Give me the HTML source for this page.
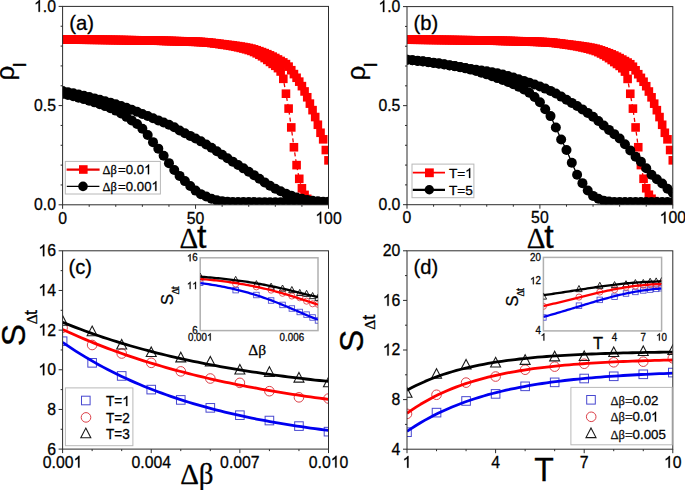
<!DOCTYPE html><html><head><meta charset="utf-8"><style>html,body{margin:0;padding:0;background:#fff;width:685px;height:490px;overflow:hidden;}svg{display:block;} svg text{stroke:#000;stroke-width:.28px;font-kerning:none;}</style></head><body>
<svg width="685" height="490" viewBox="0 0 685 490" font-family='"Liberation Sans", sans-serif'>
<rect width="685" height="490" fill="#fff"/>
<defs>
<clipPath id="ca"><rect x="62.6" y="6.4" width="265.90" height="198.40"/></clipPath>
<clipPath id="cb"><rect x="407.0" y="6.6" width="265.80" height="198.10"/></clipPath>
<clipPath id="cc"><rect x="62.6" y="250.8" width="265.90" height="198.30"/></clipPath>
<clipPath id="cd"><rect x="407.0" y="250.8" width="265.80" height="198.40"/></clipPath>
<clipPath id="cci"><rect x="200.2" y="257.8" width="117.80" height="72.80"/></clipPath>
<clipPath id="cdi"><rect x="543.4" y="257.4" width="118.20" height="73.50"/></clipPath>
</defs>
<g clip-path="url(#ca)"><rect x="58.3" y="35.23" width="8.6" height="8.6" fill="#f00"/><rect x="60.96" y="35.26" width="8.6" height="8.6" fill="#f00"/><rect x="63.62" y="35.28" width="8.6" height="8.6" fill="#f00"/><rect x="66.28" y="35.31" width="8.6" height="8.6" fill="#f00"/><rect x="68.94" y="35.34" width="8.6" height="8.6" fill="#f00"/><rect x="71.59" y="35.36" width="8.6" height="8.6" fill="#f00"/><rect x="74.25" y="35.39" width="8.6" height="8.6" fill="#f00"/><rect x="76.91" y="35.42" width="8.6" height="8.6" fill="#f00"/><rect x="79.57" y="35.45" width="8.6" height="8.6" fill="#f00"/><rect x="82.23" y="35.48" width="8.6" height="8.6" fill="#f00"/><rect x="84.89" y="35.51" width="8.6" height="8.6" fill="#f00"/><rect x="87.55" y="35.54" width="8.6" height="8.6" fill="#f00"/><rect x="90.21" y="35.57" width="8.6" height="8.6" fill="#f00"/><rect x="92.87" y="35.6" width="8.6" height="8.6" fill="#f00"/><rect x="95.53" y="35.63" width="8.6" height="8.6" fill="#f00"/><rect x="98.19" y="35.66" width="8.6" height="8.6" fill="#f00"/><rect x="100.84" y="35.69" width="8.6" height="8.6" fill="#f00"/><rect x="103.5" y="35.73" width="8.6" height="8.6" fill="#f00"/><rect x="106.16" y="35.76" width="8.6" height="8.6" fill="#f00"/><rect x="108.82" y="35.79" width="8.6" height="8.6" fill="#f00"/><rect x="111.48" y="35.83" width="8.6" height="8.6" fill="#f00"/><rect x="114.14" y="35.86" width="8.6" height="8.6" fill="#f00"/><rect x="116.8" y="35.9" width="8.6" height="8.6" fill="#f00"/><rect x="119.46" y="35.93" width="8.6" height="8.6" fill="#f00"/><rect x="122.12" y="35.96" width="8.6" height="8.6" fill="#f00"/><rect x="124.77" y="36" width="8.6" height="8.6" fill="#f00"/><rect x="127.43" y="36.03" width="8.6" height="8.6" fill="#f00"/><rect x="130.09" y="36.06" width="8.6" height="8.6" fill="#f00"/><rect x="132.75" y="36.1" width="8.6" height="8.6" fill="#f00"/><rect x="135.41" y="36.14" width="8.6" height="8.6" fill="#f00"/><rect x="138.07" y="36.17" width="8.6" height="8.6" fill="#f00"/><rect x="140.73" y="36.21" width="8.6" height="8.6" fill="#f00"/><rect x="143.39" y="36.25" width="8.6" height="8.6" fill="#f00"/><rect x="146.05" y="36.29" width="8.6" height="8.6" fill="#f00"/><rect x="148.71" y="36.33" width="8.6" height="8.6" fill="#f00"/><rect x="151.36" y="36.37" width="8.6" height="8.6" fill="#f00"/><rect x="154.02" y="36.42" width="8.6" height="8.6" fill="#f00"/><rect x="156.68" y="36.47" width="8.6" height="8.6" fill="#f00"/><rect x="159.34" y="36.52" width="8.6" height="8.6" fill="#f00"/><rect x="162" y="36.57" width="8.6" height="8.6" fill="#f00"/><rect x="164.66" y="36.62" width="8.6" height="8.6" fill="#f00"/><rect x="167.32" y="36.68" width="8.6" height="8.6" fill="#f00"/><rect x="169.98" y="36.74" width="8.6" height="8.6" fill="#f00"/><rect x="172.64" y="36.8" width="8.6" height="8.6" fill="#f00"/><rect x="175.3" y="36.86" width="8.6" height="8.6" fill="#f00"/><rect x="177.95" y="36.93" width="8.6" height="8.6" fill="#f00"/><rect x="180.61" y="37" width="8.6" height="8.6" fill="#f00"/><rect x="183.27" y="37.08" width="8.6" height="8.6" fill="#f00"/><rect x="185.93" y="37.17" width="8.6" height="8.6" fill="#f00"/><rect x="188.59" y="37.27" width="8.6" height="8.6" fill="#f00"/><rect x="191.25" y="37.37" width="8.6" height="8.6" fill="#f00"/><rect x="193.91" y="37.49" width="8.6" height="8.6" fill="#f00"/><rect x="196.57" y="37.61" width="8.6" height="8.6" fill="#f00"/><rect x="199.23" y="37.77" width="8.6" height="8.6" fill="#f00"/><rect x="201.89" y="37.98" width="8.6" height="8.6" fill="#f00"/><rect x="204.54" y="38.23" width="8.6" height="8.6" fill="#f00"/><rect x="207.2" y="38.52" width="8.6" height="8.6" fill="#f00"/><rect x="209.86" y="38.82" width="8.6" height="8.6" fill="#f00"/><rect x="212.52" y="39.14" width="8.6" height="8.6" fill="#f00"/><rect x="215.18" y="39.47" width="8.6" height="8.6" fill="#f00"/><rect x="217.84" y="39.8" width="8.6" height="8.6" fill="#f00"/><rect x="220.5" y="40.12" width="8.6" height="8.6" fill="#f00"/><rect x="223.16" y="40.44" width="8.6" height="8.6" fill="#f00"/><rect x="225.82" y="40.76" width="8.6" height="8.6" fill="#f00"/><rect x="228.48" y="41.1" width="8.6" height="8.6" fill="#f00"/><rect x="231.13" y="41.46" width="8.6" height="8.6" fill="#f00"/><rect x="233.79" y="41.84" width="8.6" height="8.6" fill="#f00"/><rect x="236.45" y="42.25" width="8.6" height="8.6" fill="#f00"/><rect x="239.11" y="42.68" width="8.6" height="8.6" fill="#f00"/><rect x="241.77" y="43.16" width="8.6" height="8.6" fill="#f00"/><rect x="244.43" y="43.68" width="8.6" height="8.6" fill="#f00"/><rect x="247.09" y="44.27" width="8.6" height="8.6" fill="#f00"/><rect x="249.75" y="45.03" width="8.6" height="8.6" fill="#f00"/><rect x="252.41" y="45.92" width="8.6" height="8.6" fill="#f00"/><rect x="255.07" y="46.85" width="8.6" height="8.6" fill="#f00"/><rect x="257.72" y="47.81" width="8.6" height="8.6" fill="#f00"/><rect x="260.38" y="48.82" width="8.6" height="8.6" fill="#f00"/><rect x="263.04" y="49.9" width="8.6" height="8.6" fill="#f00"/><rect x="265.7" y="51.06" width="8.6" height="8.6" fill="#f00"/><rect x="268.36" y="52.32" width="8.6" height="8.6" fill="#f00"/><rect x="271.02" y="53.69" width="8.6" height="8.6" fill="#f00"/><rect x="273.68" y="55.15" width="8.6" height="8.6" fill="#f00"/><rect x="276.34" y="56.66" width="8.6" height="8.6" fill="#f00"/><rect x="279" y="58.12" width="8.6" height="8.6" fill="#f00"/><rect x="281.66" y="59.81" width="8.6" height="8.6" fill="#f00"/><rect x="284.31" y="62.33" width="8.6" height="8.6" fill="#f00"/><rect x="286.97" y="65.91" width="8.6" height="8.6" fill="#f00"/><rect x="289.63" y="69.8" width="8.6" height="8.6" fill="#f00"/><rect x="292.29" y="73.48" width="8.6" height="8.6" fill="#f00"/><rect x="294.95" y="77.34" width="8.6" height="8.6" fill="#f00"/><rect x="297.61" y="81.84" width="8.6" height="8.6" fill="#f00"/><rect x="300.27" y="87.14" width="8.6" height="8.6" fill="#f00"/><rect x="302.93" y="92.97" width="8.6" height="8.6" fill="#f00"/><rect x="305.59" y="99.32" width="8.6" height="8.6" fill="#f00"/><rect x="308.25" y="105.84" width="8.6" height="8.6" fill="#f00"/><rect x="310.9" y="112.74" width="8.6" height="8.6" fill="#f00"/><rect x="313.56" y="120.46" width="8.6" height="8.6" fill="#f00"/><rect x="316.22" y="128.47" width="8.6" height="8.6" fill="#f00"/><rect x="318.88" y="135.03" width="8.6" height="8.6" fill="#f00"/><rect x="321.54" y="145.74" width="8.6" height="8.6" fill="#f00"/><rect x="324.2" y="156.06" width="8.6" height="8.6" fill="#f00"/><path d="M62.6,39.53 L65.26,39.53 L67.92,39.54 L70.58,39.54 L73.24,39.55 L75.89,39.55 L78.55,39.56 L81.21,39.58 L83.87,39.59 L86.53,39.61 L89.19,39.62 L91.85,39.64 L94.51,39.66 L97.17,39.68 L99.83,39.71 L102.48,39.74 L105.14,39.76 L107.8,39.79 L110.46,39.83 L113.12,39.86 L115.78,39.9 L118.44,39.93 L121.1,39.97 L123.76,40.02 L126.42,40.06 L129.07,40.11 L131.73,40.15 L134.39,40.2 L137.05,40.25 L139.71,40.31 L142.37,40.36 L145.03,40.42 L147.69,40.48 L150.35,40.54 L153.01,40.61 L155.66,40.67 L158.32,40.74 L160.98,40.81 L163.64,40.88 L166.3,40.96 L168.96,41.03 L171.62,41.11 L174.28,41.19 L176.94,41.27 L179.6,41.36 L182.25,41.44 L184.91,41.53 L187.57,41.62 L190.23,41.72 L192.89,41.81 L195.55,41.91 L198.21,42.01 L200.87,42.11 L203.53,42.25 L206.19,42.46 L208.84,42.72 L211.5,43.02 L214.16,43.36 L216.82,43.73 L219.48,44.11 L222.14,44.49 L224.8,44.89 L227.46,45.31 L230.12,45.75 L232.78,46.23 L235.43,46.75 L238.09,47.31 L240.75,47.91 L243.41,48.56 L246.07,49.27 L248.73,50.04 L251.39,50.9 L254.05,52.01 L256.71,53.32 L259.37,54.76 L262.02,56.3 L264.68,58.03 L267.34,59.92 L270,61.93 L272.66,63.89 L275.32,65.79 L277.98,68.14 L280.64,71.48 L283.3,78.82 L285.96,93.7 L288.62,108.58 L291.27,127.42 L293.93,147.26 L296.59,165.12 L299.25,178.81 L301.91,188.33 L304.57,194.88 L307.23,198.85 L309.89,201.23 L312.55,202.42 L315.2,203.21 L317.86,203.49 L320.52,203.72 L323.18,203.88 L325.84,203.97 L328.5,204.01" fill="none" stroke="#e00" stroke-width="1.3" stroke-dasharray="4,3"/><rect x="58.3" y="35.23" width="8.6" height="8.6" fill="#f00"/><rect x="60.96" y="35.23" width="8.6" height="8.6" fill="#f00"/><rect x="63.62" y="35.24" width="8.6" height="8.6" fill="#f00"/><rect x="66.28" y="35.24" width="8.6" height="8.6" fill="#f00"/><rect x="68.94" y="35.25" width="8.6" height="8.6" fill="#f00"/><rect x="71.59" y="35.25" width="8.6" height="8.6" fill="#f00"/><rect x="74.25" y="35.26" width="8.6" height="8.6" fill="#f00"/><rect x="76.91" y="35.28" width="8.6" height="8.6" fill="#f00"/><rect x="79.57" y="35.29" width="8.6" height="8.6" fill="#f00"/><rect x="82.23" y="35.31" width="8.6" height="8.6" fill="#f00"/><rect x="84.89" y="35.32" width="8.6" height="8.6" fill="#f00"/><rect x="87.55" y="35.34" width="8.6" height="8.6" fill="#f00"/><rect x="90.21" y="35.36" width="8.6" height="8.6" fill="#f00"/><rect x="92.87" y="35.38" width="8.6" height="8.6" fill="#f00"/><rect x="95.53" y="35.41" width="8.6" height="8.6" fill="#f00"/><rect x="98.19" y="35.44" width="8.6" height="8.6" fill="#f00"/><rect x="100.84" y="35.46" width="8.6" height="8.6" fill="#f00"/><rect x="103.5" y="35.49" width="8.6" height="8.6" fill="#f00"/><rect x="106.16" y="35.53" width="8.6" height="8.6" fill="#f00"/><rect x="108.82" y="35.56" width="8.6" height="8.6" fill="#f00"/><rect x="111.48" y="35.6" width="8.6" height="8.6" fill="#f00"/><rect x="114.14" y="35.63" width="8.6" height="8.6" fill="#f00"/><rect x="116.8" y="35.67" width="8.6" height="8.6" fill="#f00"/><rect x="119.46" y="35.72" width="8.6" height="8.6" fill="#f00"/><rect x="122.12" y="35.76" width="8.6" height="8.6" fill="#f00"/><rect x="124.77" y="35.81" width="8.6" height="8.6" fill="#f00"/><rect x="127.43" y="35.85" width="8.6" height="8.6" fill="#f00"/><rect x="130.09" y="35.9" width="8.6" height="8.6" fill="#f00"/><rect x="132.75" y="35.95" width="8.6" height="8.6" fill="#f00"/><rect x="135.41" y="36.01" width="8.6" height="8.6" fill="#f00"/><rect x="138.07" y="36.06" width="8.6" height="8.6" fill="#f00"/><rect x="140.73" y="36.12" width="8.6" height="8.6" fill="#f00"/><rect x="143.39" y="36.18" width="8.6" height="8.6" fill="#f00"/><rect x="146.05" y="36.24" width="8.6" height="8.6" fill="#f00"/><rect x="148.71" y="36.31" width="8.6" height="8.6" fill="#f00"/><rect x="151.36" y="36.37" width="8.6" height="8.6" fill="#f00"/><rect x="154.02" y="36.44" width="8.6" height="8.6" fill="#f00"/><rect x="156.68" y="36.51" width="8.6" height="8.6" fill="#f00"/><rect x="159.34" y="36.58" width="8.6" height="8.6" fill="#f00"/><rect x="162" y="36.66" width="8.6" height="8.6" fill="#f00"/><rect x="164.66" y="36.73" width="8.6" height="8.6" fill="#f00"/><rect x="167.32" y="36.81" width="8.6" height="8.6" fill="#f00"/><rect x="169.98" y="36.89" width="8.6" height="8.6" fill="#f00"/><rect x="172.64" y="36.97" width="8.6" height="8.6" fill="#f00"/><rect x="175.3" y="37.06" width="8.6" height="8.6" fill="#f00"/><rect x="177.95" y="37.14" width="8.6" height="8.6" fill="#f00"/><rect x="180.61" y="37.23" width="8.6" height="8.6" fill="#f00"/><rect x="183.27" y="37.32" width="8.6" height="8.6" fill="#f00"/><rect x="185.93" y="37.42" width="8.6" height="8.6" fill="#f00"/><rect x="188.59" y="37.51" width="8.6" height="8.6" fill="#f00"/><rect x="191.25" y="37.61" width="8.6" height="8.6" fill="#f00"/><rect x="193.91" y="37.71" width="8.6" height="8.6" fill="#f00"/><rect x="196.57" y="37.81" width="8.6" height="8.6" fill="#f00"/><rect x="199.23" y="37.95" width="8.6" height="8.6" fill="#f00"/><rect x="201.89" y="38.16" width="8.6" height="8.6" fill="#f00"/><rect x="204.54" y="38.42" width="8.6" height="8.6" fill="#f00"/><rect x="207.2" y="38.72" width="8.6" height="8.6" fill="#f00"/><rect x="209.86" y="39.06" width="8.6" height="8.6" fill="#f00"/><rect x="212.52" y="39.43" width="8.6" height="8.6" fill="#f00"/><rect x="215.18" y="39.81" width="8.6" height="8.6" fill="#f00"/><rect x="217.84" y="40.19" width="8.6" height="8.6" fill="#f00"/><rect x="220.5" y="40.59" width="8.6" height="8.6" fill="#f00"/><rect x="223.16" y="41.01" width="8.6" height="8.6" fill="#f00"/><rect x="225.82" y="41.45" width="8.6" height="8.6" fill="#f00"/><rect x="228.48" y="41.93" width="8.6" height="8.6" fill="#f00"/><rect x="231.13" y="42.45" width="8.6" height="8.6" fill="#f00"/><rect x="233.79" y="43.01" width="8.6" height="8.6" fill="#f00"/><rect x="236.45" y="43.61" width="8.6" height="8.6" fill="#f00"/><rect x="239.11" y="44.26" width="8.6" height="8.6" fill="#f00"/><rect x="241.77" y="44.97" width="8.6" height="8.6" fill="#f00"/><rect x="244.43" y="45.74" width="8.6" height="8.6" fill="#f00"/><rect x="247.09" y="46.6" width="8.6" height="8.6" fill="#f00"/><rect x="249.75" y="47.71" width="8.6" height="8.6" fill="#f00"/><rect x="252.41" y="49.02" width="8.6" height="8.6" fill="#f00"/><rect x="255.07" y="50.46" width="8.6" height="8.6" fill="#f00"/><rect x="257.72" y="52" width="8.6" height="8.6" fill="#f00"/><rect x="260.38" y="53.73" width="8.6" height="8.6" fill="#f00"/><rect x="263.04" y="55.62" width="8.6" height="8.6" fill="#f00"/><rect x="265.7" y="57.63" width="8.6" height="8.6" fill="#f00"/><rect x="268.36" y="59.59" width="8.6" height="8.6" fill="#f00"/><rect x="271.02" y="61.49" width="8.6" height="8.6" fill="#f00"/><rect x="273.68" y="63.84" width="8.6" height="8.6" fill="#f00"/><rect x="276.34" y="67.18" width="8.6" height="8.6" fill="#f00"/><rect x="279" y="74.52" width="8.6" height="8.6" fill="#f00"/><rect x="281.66" y="89.4" width="8.6" height="8.6" fill="#f00"/><rect x="284.31" y="104.28" width="8.6" height="8.6" fill="#f00"/><rect x="286.97" y="123.12" width="8.6" height="8.6" fill="#f00"/><rect x="289.63" y="142.96" width="8.6" height="8.6" fill="#f00"/><rect x="292.29" y="160.82" width="8.6" height="8.6" fill="#f00"/><rect x="294.95" y="174.51" width="8.6" height="8.6" fill="#f00"/><rect x="297.61" y="184.03" width="8.6" height="8.6" fill="#f00"/><rect x="300.27" y="190.58" width="8.6" height="8.6" fill="#f00"/><rect x="302.93" y="194.55" width="8.6" height="8.6" fill="#f00"/><rect x="305.59" y="196.93" width="8.6" height="8.6" fill="#f00"/><rect x="308.25" y="198.12" width="8.6" height="8.6" fill="#f00"/><rect x="310.9" y="198.91" width="8.6" height="8.6" fill="#f00"/><rect x="313.56" y="199.19" width="8.6" height="8.6" fill="#f00"/><rect x="316.22" y="199.42" width="8.6" height="8.6" fill="#f00"/><rect x="318.88" y="199.58" width="8.6" height="8.6" fill="#f00"/><rect x="321.54" y="199.67" width="8.6" height="8.6" fill="#f00"/><rect x="324.2" y="199.71" width="8.6" height="8.6" fill="#f00"/><path d="M62.6,91.12 L67.92,92.21 L73.24,93.36 L78.55,94.55 L83.87,95.79 L89.19,97.06 L94.51,98.38 L99.83,99.75 L105.14,101.17 L110.46,102.66 L115.78,104.21 L121.1,105.92 L126.42,107.79 L131.73,109.77 L137.05,111.83 L142.37,113.94 L147.69,116.05 L153.01,118.21 L158.32,120.41 L163.64,122.57 L168.96,124.72 L174.28,127.29 L179.6,130.5 L184.91,133.3 L190.23,135.9 L195.55,138.51 L200.87,141.36 L206.19,144.5 L211.5,147.83 L216.82,151.29 L222.14,154.79 L227.46,158.26 L232.78,161.65 L238.09,165.01 L243.41,168.37 L248.73,171.74 L254.05,175.15 L259.37,178.69 L264.68,182.38 L270,185.82 L275.32,188.73 L280.64,191.33 L285.96,193.64 L291.27,195.66 L296.59,197.44 L301.91,198.85 L307.23,199.92 L312.55,200.75 L317.86,201.26 L323.18,201.64 L328.5,201.82" fill="none" stroke="#000" stroke-width="1.3"/><circle cx="62.6" cy="91.12" r="5.0" fill="#000"/><circle cx="67.92" cy="92.21" r="5.0" fill="#000"/><circle cx="73.24" cy="93.36" r="5.0" fill="#000"/><circle cx="78.55" cy="94.55" r="5.0" fill="#000"/><circle cx="83.87" cy="95.79" r="5.0" fill="#000"/><circle cx="89.19" cy="97.06" r="5.0" fill="#000"/><circle cx="94.51" cy="98.38" r="5.0" fill="#000"/><circle cx="99.83" cy="99.75" r="5.0" fill="#000"/><circle cx="105.14" cy="101.17" r="5.0" fill="#000"/><circle cx="110.46" cy="102.66" r="5.0" fill="#000"/><circle cx="115.78" cy="104.21" r="5.0" fill="#000"/><circle cx="121.1" cy="105.92" r="5.0" fill="#000"/><circle cx="126.42" cy="107.79" r="5.0" fill="#000"/><circle cx="131.73" cy="109.77" r="5.0" fill="#000"/><circle cx="137.05" cy="111.83" r="5.0" fill="#000"/><circle cx="142.37" cy="113.94" r="5.0" fill="#000"/><circle cx="147.69" cy="116.05" r="5.0" fill="#000"/><circle cx="153.01" cy="118.21" r="5.0" fill="#000"/><circle cx="158.32" cy="120.41" r="5.0" fill="#000"/><circle cx="163.64" cy="122.57" r="5.0" fill="#000"/><circle cx="168.96" cy="124.72" r="5.0" fill="#000"/><circle cx="174.28" cy="127.29" r="5.0" fill="#000"/><circle cx="179.6" cy="130.5" r="5.0" fill="#000"/><circle cx="184.91" cy="133.3" r="5.0" fill="#000"/><circle cx="190.23" cy="135.9" r="5.0" fill="#000"/><circle cx="195.55" cy="138.51" r="5.0" fill="#000"/><circle cx="200.87" cy="141.36" r="5.0" fill="#000"/><circle cx="206.19" cy="144.5" r="5.0" fill="#000"/><circle cx="211.5" cy="147.83" r="5.0" fill="#000"/><circle cx="216.82" cy="151.29" r="5.0" fill="#000"/><circle cx="222.14" cy="154.79" r="5.0" fill="#000"/><circle cx="227.46" cy="158.26" r="5.0" fill="#000"/><circle cx="232.78" cy="161.65" r="5.0" fill="#000"/><circle cx="238.09" cy="165.01" r="5.0" fill="#000"/><circle cx="243.41" cy="168.37" r="5.0" fill="#000"/><circle cx="248.73" cy="171.74" r="5.0" fill="#000"/><circle cx="254.05" cy="175.15" r="5.0" fill="#000"/><circle cx="259.37" cy="178.69" r="5.0" fill="#000"/><circle cx="264.68" cy="182.38" r="5.0" fill="#000"/><circle cx="270" cy="185.82" r="5.0" fill="#000"/><circle cx="275.32" cy="188.73" r="5.0" fill="#000"/><circle cx="280.64" cy="191.33" r="5.0" fill="#000"/><circle cx="285.96" cy="193.64" r="5.0" fill="#000"/><circle cx="291.27" cy="195.66" r="5.0" fill="#000"/><circle cx="296.59" cy="197.44" r="5.0" fill="#000"/><circle cx="301.91" cy="198.85" r="5.0" fill="#000"/><circle cx="307.23" cy="199.92" r="5.0" fill="#000"/><circle cx="312.55" cy="200.75" r="5.0" fill="#000"/><circle cx="317.86" cy="201.26" r="5.0" fill="#000"/><circle cx="323.18" cy="201.64" r="5.0" fill="#000"/><circle cx="328.5" cy="201.82" r="5.0" fill="#000"/><path d="M62.6,93.89 L67.92,95.02 L73.24,96.27 L78.55,97.64 L83.87,99.12 L89.19,100.68 L94.51,102.35 L99.83,104.15 L105.14,106.1 L110.46,108.23 L115.78,110.59 L121.1,113.46 L126.42,116.87 L131.73,120.4 L137.05,124.04 L142.37,128.71 L147.69,134.97 L153.01,142.16 L158.32,148.65 L163.64,155.83 L168.96,163.14 L174.28,169.96 L179.6,175.88 L184.91,181.09 L190.23,186.04 L195.55,190.6 L200.87,194.14 L206.19,196.47 L211.5,198.79 L216.82,200.35 L222.14,201.14 L227.46,201.66 L232.78,201.97 L238.09,202.04 L243.41,202.06 L248.73,202.09 L254.05,202.11 L259.37,202.13 L264.68,202.14 L270,202.16 L275.32,202.17 L280.64,202.18 L285.96,202.19 L291.27,202.2 L296.59,202.21 L301.91,202.21 L307.23,202.21 L312.55,202.22 L317.86,202.22 L323.18,202.22 L328.5,202.22" fill="none" stroke="#000" stroke-width="1.3"/><circle cx="62.6" cy="93.89" r="5.0" fill="#000"/><circle cx="67.92" cy="95.02" r="5.0" fill="#000"/><circle cx="73.24" cy="96.27" r="5.0" fill="#000"/><circle cx="78.55" cy="97.64" r="5.0" fill="#000"/><circle cx="83.87" cy="99.12" r="5.0" fill="#000"/><circle cx="89.19" cy="100.68" r="5.0" fill="#000"/><circle cx="94.51" cy="102.35" r="5.0" fill="#000"/><circle cx="99.83" cy="104.15" r="5.0" fill="#000"/><circle cx="105.14" cy="106.1" r="5.0" fill="#000"/><circle cx="110.46" cy="108.23" r="5.0" fill="#000"/><circle cx="115.78" cy="110.59" r="5.0" fill="#000"/><circle cx="121.1" cy="113.46" r="5.0" fill="#000"/><circle cx="126.42" cy="116.87" r="5.0" fill="#000"/><circle cx="131.73" cy="120.4" r="5.0" fill="#000"/><circle cx="137.05" cy="124.04" r="5.0" fill="#000"/><circle cx="142.37" cy="128.71" r="5.0" fill="#000"/><circle cx="147.69" cy="134.97" r="5.0" fill="#000"/><circle cx="153.01" cy="142.16" r="5.0" fill="#000"/><circle cx="158.32" cy="148.65" r="5.0" fill="#000"/><circle cx="163.64" cy="155.83" r="5.0" fill="#000"/><circle cx="168.96" cy="163.14" r="5.0" fill="#000"/><circle cx="174.28" cy="169.96" r="5.0" fill="#000"/><circle cx="179.6" cy="175.88" r="5.0" fill="#000"/><circle cx="184.91" cy="181.09" r="5.0" fill="#000"/><circle cx="190.23" cy="186.04" r="5.0" fill="#000"/><circle cx="195.55" cy="190.6" r="5.0" fill="#000"/><circle cx="200.87" cy="194.14" r="5.0" fill="#000"/><circle cx="206.19" cy="196.47" r="5.0" fill="#000"/><circle cx="211.5" cy="198.79" r="5.0" fill="#000"/><circle cx="216.82" cy="200.35" r="5.0" fill="#000"/><circle cx="222.14" cy="201.14" r="5.0" fill="#000"/><circle cx="227.46" cy="201.66" r="5.0" fill="#000"/><circle cx="232.78" cy="201.97" r="5.0" fill="#000"/><circle cx="238.09" cy="202.04" r="5.0" fill="#000"/><circle cx="243.41" cy="202.06" r="5.0" fill="#000"/><circle cx="248.73" cy="202.09" r="5.0" fill="#000"/><circle cx="254.05" cy="202.11" r="5.0" fill="#000"/><circle cx="259.37" cy="202.13" r="5.0" fill="#000"/><circle cx="264.68" cy="202.14" r="5.0" fill="#000"/><circle cx="270" cy="202.16" r="5.0" fill="#000"/><circle cx="275.32" cy="202.17" r="5.0" fill="#000"/><circle cx="280.64" cy="202.18" r="5.0" fill="#000"/><circle cx="285.96" cy="202.19" r="5.0" fill="#000"/><circle cx="291.27" cy="202.2" r="5.0" fill="#000"/><circle cx="296.59" cy="202.21" r="5.0" fill="#000"/><circle cx="301.91" cy="202.21" r="5.0" fill="#000"/><circle cx="307.23" cy="202.21" r="5.0" fill="#000"/><circle cx="312.55" cy="202.22" r="5.0" fill="#000"/><circle cx="317.86" cy="202.22" r="5.0" fill="#000"/><circle cx="323.18" cy="202.22" r="5.0" fill="#000"/><circle cx="328.5" cy="202.22" r="5.0" fill="#000"/></g>
<g clip-path="url(#cb)"><rect x="402.7" y="35.38" width="8.6" height="8.6" fill="#f00"/><rect x="405.36" y="35.41" width="8.6" height="8.6" fill="#f00"/><rect x="408.02" y="35.43" width="8.6" height="8.6" fill="#f00"/><rect x="410.67" y="35.46" width="8.6" height="8.6" fill="#f00"/><rect x="413.33" y="35.49" width="8.6" height="8.6" fill="#f00"/><rect x="415.99" y="35.51" width="8.6" height="8.6" fill="#f00"/><rect x="418.65" y="35.54" width="8.6" height="8.6" fill="#f00"/><rect x="421.31" y="35.57" width="8.6" height="8.6" fill="#f00"/><rect x="423.96" y="35.6" width="8.6" height="8.6" fill="#f00"/><rect x="426.62" y="35.63" width="8.6" height="8.6" fill="#f00"/><rect x="429.28" y="35.66" width="8.6" height="8.6" fill="#f00"/><rect x="431.94" y="35.69" width="8.6" height="8.6" fill="#f00"/><rect x="434.6" y="35.72" width="8.6" height="8.6" fill="#f00"/><rect x="437.25" y="35.75" width="8.6" height="8.6" fill="#f00"/><rect x="439.91" y="35.78" width="8.6" height="8.6" fill="#f00"/><rect x="442.57" y="35.81" width="8.6" height="8.6" fill="#f00"/><rect x="445.23" y="35.84" width="8.6" height="8.6" fill="#f00"/><rect x="447.89" y="35.88" width="8.6" height="8.6" fill="#f00"/><rect x="450.54" y="35.91" width="8.6" height="8.6" fill="#f00"/><rect x="453.2" y="35.94" width="8.6" height="8.6" fill="#f00"/><rect x="455.86" y="35.98" width="8.6" height="8.6" fill="#f00"/><rect x="458.52" y="36.01" width="8.6" height="8.6" fill="#f00"/><rect x="461.18" y="36.04" width="8.6" height="8.6" fill="#f00"/><rect x="463.83" y="36.08" width="8.6" height="8.6" fill="#f00"/><rect x="466.49" y="36.11" width="8.6" height="8.6" fill="#f00"/><rect x="469.15" y="36.14" width="8.6" height="8.6" fill="#f00"/><rect x="471.81" y="36.18" width="8.6" height="8.6" fill="#f00"/><rect x="474.47" y="36.21" width="8.6" height="8.6" fill="#f00"/><rect x="477.12" y="36.25" width="8.6" height="8.6" fill="#f00"/><rect x="479.78" y="36.28" width="8.6" height="8.6" fill="#f00"/><rect x="482.44" y="36.32" width="8.6" height="8.6" fill="#f00"/><rect x="485.1" y="36.36" width="8.6" height="8.6" fill="#f00"/><rect x="487.76" y="36.4" width="8.6" height="8.6" fill="#f00"/><rect x="490.41" y="36.44" width="8.6" height="8.6" fill="#f00"/><rect x="493.07" y="36.48" width="8.6" height="8.6" fill="#f00"/><rect x="495.73" y="36.52" width="8.6" height="8.6" fill="#f00"/><rect x="498.39" y="36.57" width="8.6" height="8.6" fill="#f00"/><rect x="501.05" y="36.61" width="8.6" height="8.6" fill="#f00"/><rect x="503.7" y="36.66" width="8.6" height="8.6" fill="#f00"/><rect x="506.36" y="36.72" width="8.6" height="8.6" fill="#f00"/><rect x="509.02" y="36.77" width="8.6" height="8.6" fill="#f00"/><rect x="511.68" y="36.83" width="8.6" height="8.6" fill="#f00"/><rect x="514.34" y="36.88" width="8.6" height="8.6" fill="#f00"/><rect x="516.99" y="36.94" width="8.6" height="8.6" fill="#f00"/><rect x="519.65" y="37.01" width="8.6" height="8.6" fill="#f00"/><rect x="522.31" y="37.08" width="8.6" height="8.6" fill="#f00"/><rect x="524.97" y="37.15" width="8.6" height="8.6" fill="#f00"/><rect x="527.63" y="37.23" width="8.6" height="8.6" fill="#f00"/><rect x="530.28" y="37.32" width="8.6" height="8.6" fill="#f00"/><rect x="532.94" y="37.41" width="8.6" height="8.6" fill="#f00"/><rect x="535.6" y="37.52" width="8.6" height="8.6" fill="#f00"/><rect x="538.26" y="37.63" width="8.6" height="8.6" fill="#f00"/><rect x="540.92" y="37.76" width="8.6" height="8.6" fill="#f00"/><rect x="543.57" y="37.92" width="8.6" height="8.6" fill="#f00"/><rect x="546.23" y="38.13" width="8.6" height="8.6" fill="#f00"/><rect x="548.89" y="38.38" width="8.6" height="8.6" fill="#f00"/><rect x="551.55" y="38.66" width="8.6" height="8.6" fill="#f00"/><rect x="554.21" y="38.97" width="8.6" height="8.6" fill="#f00"/><rect x="556.86" y="39.29" width="8.6" height="8.6" fill="#f00"/><rect x="559.52" y="39.61" width="8.6" height="8.6" fill="#f00"/><rect x="562.18" y="39.94" width="8.6" height="8.6" fill="#f00"/><rect x="564.84" y="40.26" width="8.6" height="8.6" fill="#f00"/><rect x="567.5" y="40.58" width="8.6" height="8.6" fill="#f00"/><rect x="570.15" y="40.91" width="8.6" height="8.6" fill="#f00"/><rect x="572.81" y="41.24" width="8.6" height="8.6" fill="#f00"/><rect x="575.47" y="41.6" width="8.6" height="8.6" fill="#f00"/><rect x="578.13" y="41.98" width="8.6" height="8.6" fill="#f00"/><rect x="580.79" y="42.38" width="8.6" height="8.6" fill="#f00"/><rect x="583.44" y="42.82" width="8.6" height="8.6" fill="#f00"/><rect x="586.1" y="43.3" width="8.6" height="8.6" fill="#f00"/><rect x="588.76" y="43.82" width="8.6" height="8.6" fill="#f00"/><rect x="591.42" y="44.41" width="8.6" height="8.6" fill="#f00"/><rect x="594.08" y="45.17" width="8.6" height="8.6" fill="#f00"/><rect x="596.73" y="46.05" width="8.6" height="8.6" fill="#f00"/><rect x="599.39" y="46.99" width="8.6" height="8.6" fill="#f00"/><rect x="602.05" y="47.94" width="8.6" height="8.6" fill="#f00"/><rect x="604.71" y="48.95" width="8.6" height="8.6" fill="#f00"/><rect x="607.37" y="50.03" width="8.6" height="8.6" fill="#f00"/><rect x="610.02" y="51.19" width="8.6" height="8.6" fill="#f00"/><rect x="612.68" y="52.44" width="8.6" height="8.6" fill="#f00"/><rect x="615.34" y="53.81" width="8.6" height="8.6" fill="#f00"/><rect x="618" y="55.27" width="8.6" height="8.6" fill="#f00"/><rect x="620.66" y="56.78" width="8.6" height="8.6" fill="#f00"/><rect x="623.31" y="58.24" width="8.6" height="8.6" fill="#f00"/><rect x="625.97" y="59.92" width="8.6" height="8.6" fill="#f00"/><rect x="628.63" y="62.44" width="8.6" height="8.6" fill="#f00"/><rect x="631.29" y="66.01" width="8.6" height="8.6" fill="#f00"/><rect x="633.95" y="69.9" width="8.6" height="8.6" fill="#f00"/><rect x="636.6" y="73.57" width="8.6" height="8.6" fill="#f00"/><rect x="639.26" y="77.42" width="8.6" height="8.6" fill="#f00"/><rect x="641.92" y="81.92" width="8.6" height="8.6" fill="#f00"/><rect x="644.58" y="87.21" width="8.6" height="8.6" fill="#f00"/><rect x="647.24" y="93.03" width="8.6" height="8.6" fill="#f00"/><rect x="649.89" y="99.37" width="8.6" height="8.6" fill="#f00"/><rect x="652.55" y="105.88" width="8.6" height="8.6" fill="#f00"/><rect x="655.21" y="112.77" width="8.6" height="8.6" fill="#f00"/><rect x="657.87" y="120.48" width="8.6" height="8.6" fill="#f00"/><rect x="660.53" y="128.48" width="8.6" height="8.6" fill="#f00"/><rect x="663.18" y="135.03" width="8.6" height="8.6" fill="#f00"/><rect x="665.84" y="145.72" width="8.6" height="8.6" fill="#f00"/><rect x="668.5" y="156.03" width="8.6" height="8.6" fill="#f00"/><path d="M407,39.68 L409.66,39.68 L412.32,39.69 L414.97,39.69 L417.63,39.7 L420.29,39.7 L422.95,39.71 L425.61,39.73 L428.26,39.74 L430.92,39.75 L433.58,39.77 L436.24,39.79 L438.9,39.81 L441.55,39.83 L444.21,39.86 L446.87,39.89 L449.53,39.91 L452.19,39.94 L454.84,39.98 L457.5,40.01 L460.16,40.05 L462.82,40.08 L465.48,40.12 L468.13,40.16 L470.79,40.21 L473.45,40.25 L476.11,40.3 L478.77,40.35 L481.42,40.4 L484.08,40.46 L486.74,40.51 L489.4,40.57 L492.06,40.63 L494.71,40.69 L497.37,40.75 L500.03,40.82 L502.69,40.89 L505.35,40.96 L508,41.03 L510.66,41.1 L513.32,41.18 L515.98,41.26 L518.64,41.34 L521.29,41.42 L523.95,41.5 L526.61,41.59 L529.27,41.68 L531.93,41.77 L534.58,41.86 L537.24,41.96 L539.9,42.06 L542.56,42.16 L545.22,42.26 L547.87,42.4 L550.53,42.6 L553.19,42.86 L555.85,43.17 L558.51,43.5 L561.16,43.87 L563.82,44.25 L566.48,44.64 L569.14,45.03 L571.8,45.45 L574.45,45.89 L577.11,46.37 L579.77,46.89 L582.43,47.45 L585.09,48.05 L587.74,48.7 L590.4,49.41 L593.06,50.17 L595.72,51.03 L598.38,52.14 L601.03,53.45 L603.69,54.89 L606.35,56.42 L609.01,58.15 L611.67,60.04 L614.32,62.05 L616.98,64.01 L619.64,65.9 L622.3,68.24 L624.96,71.58 L627.61,78.91 L630.27,93.76 L632.93,108.62 L635.59,127.44 L638.25,147.25 L640.9,165.08 L643.56,178.75 L646.22,188.26 L648.88,194.79 L651.54,198.76 L654.19,201.13 L656.85,202.32 L659.51,203.12 L662.17,203.4 L664.83,203.62 L667.48,203.78 L670.14,203.87 L672.8,203.91" fill="none" stroke="#e00" stroke-width="1.3" stroke-dasharray="4,3"/><rect x="402.7" y="35.38" width="8.6" height="8.6" fill="#f00"/><rect x="405.36" y="35.38" width="8.6" height="8.6" fill="#f00"/><rect x="408.02" y="35.39" width="8.6" height="8.6" fill="#f00"/><rect x="410.67" y="35.39" width="8.6" height="8.6" fill="#f00"/><rect x="413.33" y="35.4" width="8.6" height="8.6" fill="#f00"/><rect x="415.99" y="35.4" width="8.6" height="8.6" fill="#f00"/><rect x="418.65" y="35.41" width="8.6" height="8.6" fill="#f00"/><rect x="421.31" y="35.43" width="8.6" height="8.6" fill="#f00"/><rect x="423.96" y="35.44" width="8.6" height="8.6" fill="#f00"/><rect x="426.62" y="35.45" width="8.6" height="8.6" fill="#f00"/><rect x="429.28" y="35.47" width="8.6" height="8.6" fill="#f00"/><rect x="431.94" y="35.49" width="8.6" height="8.6" fill="#f00"/><rect x="434.6" y="35.51" width="8.6" height="8.6" fill="#f00"/><rect x="437.25" y="35.53" width="8.6" height="8.6" fill="#f00"/><rect x="439.91" y="35.56" width="8.6" height="8.6" fill="#f00"/><rect x="442.57" y="35.59" width="8.6" height="8.6" fill="#f00"/><rect x="445.23" y="35.61" width="8.6" height="8.6" fill="#f00"/><rect x="447.89" y="35.64" width="8.6" height="8.6" fill="#f00"/><rect x="450.54" y="35.68" width="8.6" height="8.6" fill="#f00"/><rect x="453.2" y="35.71" width="8.6" height="8.6" fill="#f00"/><rect x="455.86" y="35.75" width="8.6" height="8.6" fill="#f00"/><rect x="458.52" y="35.78" width="8.6" height="8.6" fill="#f00"/><rect x="461.18" y="35.82" width="8.6" height="8.6" fill="#f00"/><rect x="463.83" y="35.86" width="8.6" height="8.6" fill="#f00"/><rect x="466.49" y="35.91" width="8.6" height="8.6" fill="#f00"/><rect x="469.15" y="35.95" width="8.6" height="8.6" fill="#f00"/><rect x="471.81" y="36" width="8.6" height="8.6" fill="#f00"/><rect x="474.47" y="36.05" width="8.6" height="8.6" fill="#f00"/><rect x="477.12" y="36.1" width="8.6" height="8.6" fill="#f00"/><rect x="479.78" y="36.16" width="8.6" height="8.6" fill="#f00"/><rect x="482.44" y="36.21" width="8.6" height="8.6" fill="#f00"/><rect x="485.1" y="36.27" width="8.6" height="8.6" fill="#f00"/><rect x="487.76" y="36.33" width="8.6" height="8.6" fill="#f00"/><rect x="490.41" y="36.39" width="8.6" height="8.6" fill="#f00"/><rect x="493.07" y="36.45" width="8.6" height="8.6" fill="#f00"/><rect x="495.73" y="36.52" width="8.6" height="8.6" fill="#f00"/><rect x="498.39" y="36.59" width="8.6" height="8.6" fill="#f00"/><rect x="501.05" y="36.66" width="8.6" height="8.6" fill="#f00"/><rect x="503.7" y="36.73" width="8.6" height="8.6" fill="#f00"/><rect x="506.36" y="36.8" width="8.6" height="8.6" fill="#f00"/><rect x="509.02" y="36.88" width="8.6" height="8.6" fill="#f00"/><rect x="511.68" y="36.96" width="8.6" height="8.6" fill="#f00"/><rect x="514.34" y="37.04" width="8.6" height="8.6" fill="#f00"/><rect x="516.99" y="37.12" width="8.6" height="8.6" fill="#f00"/><rect x="519.65" y="37.2" width="8.6" height="8.6" fill="#f00"/><rect x="522.31" y="37.29" width="8.6" height="8.6" fill="#f00"/><rect x="524.97" y="37.38" width="8.6" height="8.6" fill="#f00"/><rect x="527.63" y="37.47" width="8.6" height="8.6" fill="#f00"/><rect x="530.28" y="37.56" width="8.6" height="8.6" fill="#f00"/><rect x="532.94" y="37.66" width="8.6" height="8.6" fill="#f00"/><rect x="535.6" y="37.76" width="8.6" height="8.6" fill="#f00"/><rect x="538.26" y="37.86" width="8.6" height="8.6" fill="#f00"/><rect x="540.92" y="37.96" width="8.6" height="8.6" fill="#f00"/><rect x="543.57" y="38.1" width="8.6" height="8.6" fill="#f00"/><rect x="546.23" y="38.3" width="8.6" height="8.6" fill="#f00"/><rect x="548.89" y="38.56" width="8.6" height="8.6" fill="#f00"/><rect x="551.55" y="38.87" width="8.6" height="8.6" fill="#f00"/><rect x="554.21" y="39.2" width="8.6" height="8.6" fill="#f00"/><rect x="556.86" y="39.57" width="8.6" height="8.6" fill="#f00"/><rect x="559.52" y="39.95" width="8.6" height="8.6" fill="#f00"/><rect x="562.18" y="40.34" width="8.6" height="8.6" fill="#f00"/><rect x="564.84" y="40.73" width="8.6" height="8.6" fill="#f00"/><rect x="567.5" y="41.15" width="8.6" height="8.6" fill="#f00"/><rect x="570.15" y="41.59" width="8.6" height="8.6" fill="#f00"/><rect x="572.81" y="42.07" width="8.6" height="8.6" fill="#f00"/><rect x="575.47" y="42.59" width="8.6" height="8.6" fill="#f00"/><rect x="578.13" y="43.15" width="8.6" height="8.6" fill="#f00"/><rect x="580.79" y="43.75" width="8.6" height="8.6" fill="#f00"/><rect x="583.44" y="44.4" width="8.6" height="8.6" fill="#f00"/><rect x="586.1" y="45.11" width="8.6" height="8.6" fill="#f00"/><rect x="588.76" y="45.87" width="8.6" height="8.6" fill="#f00"/><rect x="591.42" y="46.73" width="8.6" height="8.6" fill="#f00"/><rect x="594.08" y="47.84" width="8.6" height="8.6" fill="#f00"/><rect x="596.73" y="49.15" width="8.6" height="8.6" fill="#f00"/><rect x="599.39" y="50.59" width="8.6" height="8.6" fill="#f00"/><rect x="602.05" y="52.12" width="8.6" height="8.6" fill="#f00"/><rect x="604.71" y="53.85" width="8.6" height="8.6" fill="#f00"/><rect x="607.37" y="55.74" width="8.6" height="8.6" fill="#f00"/><rect x="610.02" y="57.75" width="8.6" height="8.6" fill="#f00"/><rect x="612.68" y="59.71" width="8.6" height="8.6" fill="#f00"/><rect x="615.34" y="61.6" width="8.6" height="8.6" fill="#f00"/><rect x="618" y="63.94" width="8.6" height="8.6" fill="#f00"/><rect x="620.66" y="67.28" width="8.6" height="8.6" fill="#f00"/><rect x="623.31" y="74.61" width="8.6" height="8.6" fill="#f00"/><rect x="625.97" y="89.46" width="8.6" height="8.6" fill="#f00"/><rect x="628.63" y="104.32" width="8.6" height="8.6" fill="#f00"/><rect x="631.29" y="123.14" width="8.6" height="8.6" fill="#f00"/><rect x="633.95" y="142.95" width="8.6" height="8.6" fill="#f00"/><rect x="636.6" y="160.78" width="8.6" height="8.6" fill="#f00"/><rect x="639.26" y="174.45" width="8.6" height="8.6" fill="#f00"/><rect x="641.92" y="183.96" width="8.6" height="8.6" fill="#f00"/><rect x="644.58" y="190.49" width="8.6" height="8.6" fill="#f00"/><rect x="647.24" y="194.46" width="8.6" height="8.6" fill="#f00"/><rect x="649.89" y="196.83" width="8.6" height="8.6" fill="#f00"/><rect x="652.55" y="198.02" width="8.6" height="8.6" fill="#f00"/><rect x="655.21" y="198.82" width="8.6" height="8.6" fill="#f00"/><rect x="657.87" y="199.1" width="8.6" height="8.6" fill="#f00"/><rect x="660.53" y="199.32" width="8.6" height="8.6" fill="#f00"/><rect x="663.18" y="199.48" width="8.6" height="8.6" fill="#f00"/><rect x="665.84" y="199.57" width="8.6" height="8.6" fill="#f00"/><rect x="668.5" y="199.61" width="8.6" height="8.6" fill="#f00"/><path d="M407,59.69 L412.32,60.17 L417.63,60.7 L422.95,61.3 L428.26,61.94 L433.58,62.63 L438.9,63.36 L444.21,64.2 L449.53,65.13 L454.84,66.11 L460.16,67.09 L465.48,68.03 L470.79,68.9 L476.11,69.7 L481.42,70.49 L486.74,71.32 L492.06,72.23 L497.37,73.27 L502.69,74.52 L508,75.96 L513.32,77.54 L518.64,79.19 L523.95,80.89 L529.27,82.65 L534.58,84.5 L539.9,86.47 L545.22,88.6 L550.53,90.91 L555.85,93.58 L561.16,96.59 L566.48,99.76 L571.8,102.9 L577.11,106.05 L582.43,109.38 L587.74,112.89 L593.06,116.75 L598.38,120.98 L603.69,125.43 L609.01,129.91 L614.32,134.15 L619.64,138.5 L624.96,144.31 L630.27,150.41 L635.59,156.69 L640.9,161.64 L646.22,168.2 L651.54,174.79 L656.85,179.3 L662.17,183.51 L667.48,188.68 L672.8,192.81" fill="none" stroke="#000" stroke-width="1.3"/><circle cx="407" cy="59.69" r="5.0" fill="#000"/><circle cx="412.32" cy="60.17" r="5.0" fill="#000"/><circle cx="417.63" cy="60.7" r="5.0" fill="#000"/><circle cx="422.95" cy="61.3" r="5.0" fill="#000"/><circle cx="428.26" cy="61.94" r="5.0" fill="#000"/><circle cx="433.58" cy="62.63" r="5.0" fill="#000"/><circle cx="438.9" cy="63.36" r="5.0" fill="#000"/><circle cx="444.21" cy="64.2" r="5.0" fill="#000"/><circle cx="449.53" cy="65.13" r="5.0" fill="#000"/><circle cx="454.84" cy="66.11" r="5.0" fill="#000"/><circle cx="460.16" cy="67.09" r="5.0" fill="#000"/><circle cx="465.48" cy="68.03" r="5.0" fill="#000"/><circle cx="470.79" cy="68.9" r="5.0" fill="#000"/><circle cx="476.11" cy="69.7" r="5.0" fill="#000"/><circle cx="481.42" cy="70.49" r="5.0" fill="#000"/><circle cx="486.74" cy="71.32" r="5.0" fill="#000"/><circle cx="492.06" cy="72.23" r="5.0" fill="#000"/><circle cx="497.37" cy="73.27" r="5.0" fill="#000"/><circle cx="502.69" cy="74.52" r="5.0" fill="#000"/><circle cx="508" cy="75.96" r="5.0" fill="#000"/><circle cx="513.32" cy="77.54" r="5.0" fill="#000"/><circle cx="518.64" cy="79.19" r="5.0" fill="#000"/><circle cx="523.95" cy="80.89" r="5.0" fill="#000"/><circle cx="529.27" cy="82.65" r="5.0" fill="#000"/><circle cx="534.58" cy="84.5" r="5.0" fill="#000"/><circle cx="539.9" cy="86.47" r="5.0" fill="#000"/><circle cx="545.22" cy="88.6" r="5.0" fill="#000"/><circle cx="550.53" cy="90.91" r="5.0" fill="#000"/><circle cx="555.85" cy="93.58" r="5.0" fill="#000"/><circle cx="561.16" cy="96.59" r="5.0" fill="#000"/><circle cx="566.48" cy="99.76" r="5.0" fill="#000"/><circle cx="571.8" cy="102.9" r="5.0" fill="#000"/><circle cx="577.11" cy="106.05" r="5.0" fill="#000"/><circle cx="582.43" cy="109.38" r="5.0" fill="#000"/><circle cx="587.74" cy="112.89" r="5.0" fill="#000"/><circle cx="593.06" cy="116.75" r="5.0" fill="#000"/><circle cx="598.38" cy="120.98" r="5.0" fill="#000"/><circle cx="603.69" cy="125.43" r="5.0" fill="#000"/><circle cx="609.01" cy="129.91" r="5.0" fill="#000"/><circle cx="614.32" cy="134.15" r="5.0" fill="#000"/><circle cx="619.64" cy="138.5" r="5.0" fill="#000"/><circle cx="624.96" cy="144.31" r="5.0" fill="#000"/><circle cx="630.27" cy="150.41" r="5.0" fill="#000"/><circle cx="635.59" cy="156.69" r="5.0" fill="#000"/><circle cx="640.9" cy="161.64" r="5.0" fill="#000"/><circle cx="646.22" cy="168.2" r="5.0" fill="#000"/><circle cx="651.54" cy="174.79" r="5.0" fill="#000"/><circle cx="656.85" cy="179.3" r="5.0" fill="#000"/><circle cx="662.17" cy="183.51" r="5.0" fill="#000"/><circle cx="667.48" cy="188.68" r="5.0" fill="#000"/><circle cx="672.8" cy="192.81" r="5.0" fill="#000"/><path d="M407,59.69 L412.32,60.26 L417.63,60.88 L422.95,61.55 L428.26,62.25 L433.58,62.99 L438.9,63.77 L444.21,64.56 L449.53,65.4 L454.84,66.3 L460.16,67.28 L465.48,68.37 L470.79,69.61 L476.11,71.05 L481.42,72.64 L486.74,74.37 L492.06,76.21 L497.37,78.11 L502.69,80.04 L508,82.06 L513.32,84.24 L518.64,86.68 L523.95,89.45 L529.27,92.72 L534.58,96.97 L539.9,102.17 L545.22,109.22 L550.53,116.12 L555.85,127.44 L561.16,139.49 L566.48,150.07 L571.8,162.83 L577.11,174.79 L582.43,183.13 L587.74,190.51 L593.06,195.91 L598.38,198.8 L603.69,200.64 L609.01,201.45 L614.32,201.94 L619.64,202.12 L624.96,202.12 L630.27,202.12 L635.59,202.12 L640.9,202.12 L646.22,202.12 L651.54,202.12 L656.85,202.12 L662.17,202.12 L667.48,202.12 L672.8,202.12" fill="none" stroke="#000" stroke-width="1.3"/><circle cx="407" cy="59.69" r="5.0" fill="#000"/><circle cx="412.32" cy="60.26" r="5.0" fill="#000"/><circle cx="417.63" cy="60.88" r="5.0" fill="#000"/><circle cx="422.95" cy="61.55" r="5.0" fill="#000"/><circle cx="428.26" cy="62.25" r="5.0" fill="#000"/><circle cx="433.58" cy="62.99" r="5.0" fill="#000"/><circle cx="438.9" cy="63.77" r="5.0" fill="#000"/><circle cx="444.21" cy="64.56" r="5.0" fill="#000"/><circle cx="449.53" cy="65.4" r="5.0" fill="#000"/><circle cx="454.84" cy="66.3" r="5.0" fill="#000"/><circle cx="460.16" cy="67.28" r="5.0" fill="#000"/><circle cx="465.48" cy="68.37" r="5.0" fill="#000"/><circle cx="470.79" cy="69.61" r="5.0" fill="#000"/><circle cx="476.11" cy="71.05" r="5.0" fill="#000"/><circle cx="481.42" cy="72.64" r="5.0" fill="#000"/><circle cx="486.74" cy="74.37" r="5.0" fill="#000"/><circle cx="492.06" cy="76.21" r="5.0" fill="#000"/><circle cx="497.37" cy="78.11" r="5.0" fill="#000"/><circle cx="502.69" cy="80.04" r="5.0" fill="#000"/><circle cx="508" cy="82.06" r="5.0" fill="#000"/><circle cx="513.32" cy="84.24" r="5.0" fill="#000"/><circle cx="518.64" cy="86.68" r="5.0" fill="#000"/><circle cx="523.95" cy="89.45" r="5.0" fill="#000"/><circle cx="529.27" cy="92.72" r="5.0" fill="#000"/><circle cx="534.58" cy="96.97" r="5.0" fill="#000"/><circle cx="539.9" cy="102.17" r="5.0" fill="#000"/><circle cx="545.22" cy="109.22" r="5.0" fill="#000"/><circle cx="550.53" cy="116.12" r="5.0" fill="#000"/><circle cx="555.85" cy="127.44" r="5.0" fill="#000"/><circle cx="561.16" cy="139.49" r="5.0" fill="#000"/><circle cx="566.48" cy="150.07" r="5.0" fill="#000"/><circle cx="571.8" cy="162.83" r="5.0" fill="#000"/><circle cx="577.11" cy="174.79" r="5.0" fill="#000"/><circle cx="582.43" cy="183.13" r="5.0" fill="#000"/><circle cx="587.74" cy="190.51" r="5.0" fill="#000"/><circle cx="593.06" cy="195.91" r="5.0" fill="#000"/><circle cx="598.38" cy="198.8" r="5.0" fill="#000"/><circle cx="603.69" cy="200.64" r="5.0" fill="#000"/><circle cx="609.01" cy="201.45" r="5.0" fill="#000"/><circle cx="614.32" cy="201.94" r="5.0" fill="#000"/><circle cx="619.64" cy="202.12" r="5.0" fill="#000"/><circle cx="624.96" cy="202.12" r="5.0" fill="#000"/><circle cx="630.27" cy="202.12" r="5.0" fill="#000"/><circle cx="635.59" cy="202.12" r="5.0" fill="#000"/><circle cx="640.9" cy="202.12" r="5.0" fill="#000"/><circle cx="646.22" cy="202.12" r="5.0" fill="#000"/><circle cx="651.54" cy="202.12" r="5.0" fill="#000"/><circle cx="656.85" cy="202.12" r="5.0" fill="#000"/><circle cx="662.17" cy="202.12" r="5.0" fill="#000"/><circle cx="667.48" cy="202.12" r="5.0" fill="#000"/><circle cx="672.8" cy="202.12" r="5.0" fill="#000"/></g>
<g clip-path="url(#cc)"><rect x="58.3" y="336.92" width="8.6" height="8.6" fill="none" stroke="#4848d0" stroke-width="1.0"/><rect x="87.84" y="358.54" width="8.6" height="8.6" fill="none" stroke="#4848d0" stroke-width="1.0"/><rect x="117.39" y="371.63" width="8.6" height="8.6" fill="none" stroke="#4848d0" stroke-width="1.0"/><rect x="146.93" y="385.31" width="8.6" height="8.6" fill="none" stroke="#4848d0" stroke-width="1.0"/><rect x="176.48" y="395.62" width="8.6" height="8.6" fill="none" stroke="#4848d0" stroke-width="1.0"/><rect x="206.02" y="403.55" width="8.6" height="8.6" fill="none" stroke="#4848d0" stroke-width="1.0"/><rect x="235.57" y="410.89" width="8.6" height="8.6" fill="none" stroke="#4848d0" stroke-width="1.0"/><rect x="265.11" y="416.24" width="8.6" height="8.6" fill="none" stroke="#4848d0" stroke-width="1.0"/><rect x="294.66" y="421.8" width="8.6" height="8.6" fill="none" stroke="#4848d0" stroke-width="1.0"/><rect x="324.2" y="427.35" width="8.6" height="8.6" fill="none" stroke="#4848d0" stroke-width="1.0"/><circle cx="62.6" cy="327.74" r="4.8" fill="none" stroke="#dc4048" stroke-width="1.0"/><circle cx="92.14" cy="344.99" r="4.8" fill="none" stroke="#dc4048" stroke-width="1.0"/><circle cx="121.69" cy="353.52" r="4.8" fill="none" stroke="#dc4048" stroke-width="1.0"/><circle cx="151.23" cy="362.84" r="4.8" fill="none" stroke="#dc4048" stroke-width="1.0"/><circle cx="180.78" cy="371.37" r="4.8" fill="none" stroke="#dc4048" stroke-width="1.0"/><circle cx="210.32" cy="378.51" r="4.8" fill="none" stroke="#dc4048" stroke-width="1.0"/><circle cx="239.87" cy="382.87" r="4.8" fill="none" stroke="#dc4048" stroke-width="1.0"/><circle cx="269.41" cy="391.2" r="4.8" fill="none" stroke="#dc4048" stroke-width="1.0"/><circle cx="298.96" cy="397.34" r="4.8" fill="none" stroke="#dc4048" stroke-width="1.0"/><circle cx="328.5" cy="398.53" r="4.8" fill="none" stroke="#dc4048" stroke-width="1.0"/><path d="M62.6,315.6 L67.6,325.2 L57.6,325.2 Z" fill="none" stroke="#1a1a1a" stroke-width="1.10" stroke-linejoin="miter"/><path d="M92.14,326.11 L97.14,335.71 L87.14,335.71 Z" fill="none" stroke="#1a1a1a" stroke-width="1.10" stroke-linejoin="miter"/><path d="M121.69,339.4 L126.69,349 L116.69,349 Z" fill="none" stroke="#1a1a1a" stroke-width="1.10" stroke-linejoin="miter"/><path d="M151.23,346.93 L156.23,356.53 L146.23,356.53 Z" fill="none" stroke="#1a1a1a" stroke-width="1.10" stroke-linejoin="miter"/><path d="M180.78,352.29 L185.78,361.89 L175.78,361.89 Z" fill="none" stroke="#1a1a1a" stroke-width="1.10" stroke-linejoin="miter"/><path d="M210.32,356.45 L215.32,366.05 L205.32,366.05 Z" fill="none" stroke="#1a1a1a" stroke-width="1.10" stroke-linejoin="miter"/><path d="M239.87,364.39 L244.87,373.99 L234.87,373.99 Z" fill="none" stroke="#1a1a1a" stroke-width="1.10" stroke-linejoin="miter"/><path d="M269.41,366.76 L274.41,376.36 L264.41,376.36 Z" fill="none" stroke="#1a1a1a" stroke-width="1.10" stroke-linejoin="miter"/><path d="M298.96,372.52 L303.96,382.12 L293.96,382.12 Z" fill="none" stroke="#1a1a1a" stroke-width="1.10" stroke-linejoin="miter"/><path d="M328.5,377.08 L333.5,386.68 L323.5,386.68 Z" fill="none" stroke="#1a1a1a" stroke-width="1.10" stroke-linejoin="miter"/><path d="M62.6,342.3 L67.11,345.4 L71.61,348.4 L76.12,351.31 L80.63,354.14 L85.13,356.89 L89.64,359.56 L94.15,362.15 L98.65,364.67 L103.16,367.12 L107.67,369.49 L112.17,371.8 L116.68,374.04 L121.19,376.21 L125.69,378.33 L130.2,380.38 L134.71,382.37 L139.22,384.31 L143.72,386.18 L148.23,388.01 L152.74,389.78 L157.24,391.5 L161.75,393.17 L166.26,394.8 L170.76,396.37 L175.27,397.9 L179.78,399.39 L184.28,400.83 L188.79,402.24 L193.3,403.6 L197.8,404.92 L202.31,406.2 L206.82,407.45 L211.32,408.66 L215.83,409.84 L220.34,410.98 L224.84,412.09 L229.35,413.17 L233.86,414.21 L238.36,415.23 L242.87,416.22 L247.38,417.18 L251.88,418.11 L256.39,419.01 L260.9,419.89 L265.41,420.74 L269.91,421.57 L274.42,422.37 L278.93,423.15 L283.43,423.91 L287.94,424.65 L292.45,425.36 L296.95,426.06 L301.46,426.73 L305.97,427.38 L310.47,428.02 L314.98,428.64 L319.49,429.24 L323.99,429.82 L328.5,430.39" fill="none" stroke="#0000f0" stroke-width="2.8" stroke-linejoin="round"/><path d="M62.6,329.4 L67.11,331.49 L71.61,333.53 L76.12,335.53 L80.63,337.49 L85.13,339.4 L89.64,341.28 L94.15,343.11 L98.65,344.9 L103.16,346.66 L107.67,348.37 L112.17,350.05 L116.68,351.69 L121.19,353.3 L125.69,354.87 L130.2,356.41 L134.71,357.91 L139.22,359.38 L143.72,360.82 L148.23,362.23 L152.74,363.61 L157.24,364.96 L161.75,366.28 L166.26,367.57 L170.76,368.83 L175.27,370.06 L179.78,371.27 L184.28,372.45 L188.79,373.61 L193.3,374.74 L197.8,375.85 L202.31,376.93 L206.82,377.99 L211.32,379.03 L215.83,380.04 L220.34,381.03 L224.84,382.01 L229.35,382.95 L233.86,383.88 L238.36,384.79 L242.87,385.68 L247.38,386.55 L251.88,387.4 L256.39,388.23 L260.9,389.05 L265.41,389.85 L269.91,390.63 L274.42,391.39 L278.93,392.13 L283.43,392.86 L287.94,393.58 L292.45,394.28 L296.95,394.96 L301.46,395.63 L305.97,396.28 L310.47,396.92 L314.98,397.55 L319.49,398.16 L323.99,398.76 L328.5,399.35" fill="none" stroke="#f00" stroke-width="2.8" stroke-linejoin="round"/><path d="M62.6,322.21 L67.11,324.05 L71.61,325.84 L76.12,327.6 L80.63,329.31 L85.13,330.99 L89.64,332.62 L94.15,334.22 L98.65,335.78 L103.16,337.3 L107.67,338.79 L112.17,340.24 L116.68,341.66 L121.19,343.05 L125.69,344.4 L130.2,345.72 L134.71,347.01 L139.22,348.27 L143.72,349.5 L148.23,350.71 L152.74,351.88 L157.24,353.03 L161.75,354.15 L166.26,355.24 L170.76,356.31 L175.27,357.35 L179.78,358.37 L184.28,359.37 L188.79,360.34 L193.3,361.29 L197.8,362.22 L202.31,363.12 L206.82,364.01 L211.32,364.87 L215.83,365.71 L220.34,366.54 L224.84,367.34 L229.35,368.13 L233.86,368.9 L238.36,369.65 L242.87,370.38 L247.38,371.09 L251.88,371.79 L256.39,372.47 L260.9,373.14 L265.41,373.79 L269.91,374.42 L274.42,375.04 L278.93,375.65 L283.43,376.24 L287.94,376.82 L292.45,377.38 L296.95,377.94 L301.46,378.47 L305.97,379 L310.47,379.51 L314.98,380.02 L319.49,380.51 L323.99,380.98 L328.5,381.45" fill="none" stroke="#000" stroke-width="2.8" stroke-linejoin="round"/></g>
<g clip-path="url(#cd)"><rect x="402.7" y="427.91" width="8.6" height="8.6" fill="none" stroke="#4848d0" stroke-width="1.0"/><rect x="432.23" y="408.32" width="8.6" height="8.6" fill="none" stroke="#4848d0" stroke-width="1.0"/><rect x="461.77" y="396.66" width="8.6" height="8.6" fill="none" stroke="#4848d0" stroke-width="1.0"/><rect x="491.3" y="389.6" width="8.6" height="8.6" fill="none" stroke="#4848d0" stroke-width="1.0"/><rect x="520.83" y="382.03" width="8.6" height="8.6" fill="none" stroke="#4848d0" stroke-width="1.0"/><rect x="550.37" y="378.06" width="8.6" height="8.6" fill="none" stroke="#4848d0" stroke-width="1.0"/><rect x="579.9" y="374.22" width="8.6" height="8.6" fill="none" stroke="#4848d0" stroke-width="1.0"/><rect x="609.43" y="371.99" width="8.6" height="8.6" fill="none" stroke="#4848d0" stroke-width="1.0"/><rect x="638.97" y="370" width="8.6" height="8.6" fill="none" stroke="#4848d0" stroke-width="1.0"/><rect x="668.5" y="368.27" width="8.6" height="8.6" fill="none" stroke="#4848d0" stroke-width="1.0"/><circle cx="407" cy="413.86" r="4.8" fill="none" stroke="#dc4048" stroke-width="1.0"/><circle cx="436.53" cy="394.76" r="4.8" fill="none" stroke="#dc4048" stroke-width="1.0"/><circle cx="466.07" cy="382.61" r="4.8" fill="none" stroke="#dc4048" stroke-width="1.0"/><circle cx="495.6" cy="376.54" r="4.8" fill="none" stroke="#dc4048" stroke-width="1.0"/><circle cx="525.13" cy="369.72" r="4.8" fill="none" stroke="#dc4048" stroke-width="1.0"/><circle cx="554.67" cy="366.62" r="4.8" fill="none" stroke="#dc4048" stroke-width="1.0"/><circle cx="584.2" cy="363.76" r="4.8" fill="none" stroke="#dc4048" stroke-width="1.0"/><circle cx="613.73" cy="362.28" r="4.8" fill="none" stroke="#dc4048" stroke-width="1.0"/><circle cx="643.27" cy="361.66" r="4.8" fill="none" stroke="#dc4048" stroke-width="1.0"/><circle cx="672.8" cy="358.31" r="4.8" fill="none" stroke="#dc4048" stroke-width="1.0"/><path d="M407,387.61 L412,397.21 L402,397.21 Z" fill="none" stroke="#1a1a1a" stroke-width="1.10" stroke-linejoin="miter"/><path d="M436.53,368.64 L441.53,378.24 L431.53,378.24 Z" fill="none" stroke="#1a1a1a" stroke-width="1.10" stroke-linejoin="miter"/><path d="M466.07,359.46 L471.07,369.06 L461.07,369.06 Z" fill="none" stroke="#1a1a1a" stroke-width="1.10" stroke-linejoin="miter"/><path d="M495.6,357.35 L500.6,366.95 L490.6,366.95 Z" fill="none" stroke="#1a1a1a" stroke-width="1.10" stroke-linejoin="miter"/><path d="M525.13,354.75 L530.13,364.35 L520.13,364.35 Z" fill="none" stroke="#1a1a1a" stroke-width="1.10" stroke-linejoin="miter"/><path d="M554.67,351.28 L559.67,360.88 L549.67,360.88 Z" fill="none" stroke="#1a1a1a" stroke-width="1.10" stroke-linejoin="miter"/><path d="M584.2,350.9 L589.2,360.5 L579.2,360.5 Z" fill="none" stroke="#1a1a1a" stroke-width="1.10" stroke-linejoin="miter"/><path d="M613.73,346.94 L618.73,356.54 L608.73,356.54 Z" fill="none" stroke="#1a1a1a" stroke-width="1.10" stroke-linejoin="miter"/><path d="M643.27,345.94 L648.27,355.54 L638.27,355.54 Z" fill="none" stroke="#1a1a1a" stroke-width="1.10" stroke-linejoin="miter"/><path d="M672.8,344.83 L677.8,354.43 L667.8,354.43 Z" fill="none" stroke="#1a1a1a" stroke-width="1.10" stroke-linejoin="miter"/><path d="M407,431.39 L411.51,428.36 L416.01,425.47 L420.52,422.74 L425.02,420.13 L429.53,417.66 L434.03,415.31 L438.54,413.07 L443.04,410.95 L447.55,408.93 L452.05,407.01 L456.56,405.18 L461.06,403.45 L465.57,401.8 L470.07,400.23 L474.58,398.74 L479.08,397.33 L483.59,395.98 L488.09,394.7 L492.6,393.49 L497.1,392.33 L501.61,391.24 L506.11,390.19 L510.62,389.2 L515.12,388.26 L519.63,387.36 L524.13,386.51 L528.64,385.7 L533.14,384.93 L537.65,384.2 L542.15,383.5 L546.66,382.84 L551.16,382.21 L555.67,381.62 L560.17,381.05 L564.68,380.51 L569.18,380 L573.69,379.51 L578.19,379.05 L582.7,378.61 L587.2,378.19 L591.71,377.79 L596.21,377.41 L600.72,377.05 L605.22,376.71 L609.73,376.39 L614.23,376.08 L618.74,375.79 L623.24,375.51 L627.75,375.24 L632.25,374.99 L636.76,374.75 L641.26,374.52 L645.77,374.31 L650.27,374.1 L654.78,373.91 L659.28,373.72 L663.79,373.55 L668.29,373.38 L672.8,373.22" fill="none" stroke="#0000f0" stroke-width="2.8" stroke-linejoin="round"/><path d="M407,413.32 L411.51,410.14 L416.01,407.15 L420.52,404.33 L425.02,401.67 L429.53,399.16 L434.03,396.8 L438.54,394.58 L443.04,392.49 L447.55,390.51 L452.05,388.65 L456.56,386.9 L461.06,385.25 L465.57,383.69 L470.07,382.23 L474.58,380.85 L479.08,379.55 L483.59,378.32 L488.09,377.16 L492.6,376.08 L497.1,375.05 L501.61,374.09 L506.11,373.18 L510.62,372.32 L515.12,371.51 L519.63,370.75 L524.13,370.03 L528.64,369.36 L533.14,368.72 L537.65,368.12 L542.15,367.55 L546.66,367.02 L551.16,366.52 L555.67,366.05 L560.17,365.6 L564.68,365.18 L569.18,364.79 L573.69,364.41 L578.19,364.06 L582.7,363.73 L587.2,363.42 L591.71,363.13 L596.21,362.85 L600.72,362.59 L605.22,362.35 L609.73,362.11 L614.23,361.9 L618.74,361.69 L623.24,361.5 L627.75,361.32 L632.25,361.14 L636.76,360.98 L641.26,360.83 L645.77,360.69 L650.27,360.55 L654.78,360.42 L659.28,360.3 L663.79,360.19 L668.29,360.08 L672.8,359.98" fill="none" stroke="#f00" stroke-width="2.8" stroke-linejoin="round"/><path d="M407,390.28 L411.51,387.85 L416.01,385.56 L420.52,383.42 L425.02,381.41 L429.53,379.53 L434.03,377.76 L438.54,376.1 L443.04,374.55 L447.55,373.1 L452.05,371.73 L456.56,370.45 L461.06,369.25 L465.57,368.12 L470.07,367.07 L474.58,366.08 L479.08,365.15 L483.59,364.28 L488.09,363.46 L492.6,362.7 L497.1,361.98 L501.61,361.31 L506.11,360.68 L510.62,360.08 L515.12,359.53 L519.63,359.01 L524.13,358.52 L528.64,358.06 L533.14,357.63 L537.65,357.23 L542.15,356.86 L546.66,356.5 L551.16,356.17 L555.67,355.86 L560.17,355.57 L564.68,355.29 L569.18,355.04 L573.69,354.8 L578.19,354.57 L582.7,354.36 L587.2,354.16 L591.71,353.98 L596.21,353.8 L600.72,353.64 L605.22,353.49 L609.73,353.34 L614.23,353.21 L618.74,353.08 L623.24,352.96 L627.75,352.85 L632.25,352.75 L636.76,352.65 L641.26,352.56 L645.77,352.47 L650.27,352.39 L654.78,352.32 L659.28,352.25 L663.79,352.18 L668.29,352.12 L672.8,352.06" fill="none" stroke="#000" stroke-width="2.8" stroke-linejoin="round"/></g>
<rect x="62.6" y="6.4" width="265.90" height="198.40" fill="none" stroke="#2c2c2c" stroke-width="1.0"/>
<path d="M62.6,204.8v4 M195.55,204.8v4 M328.5,204.8v4 M89.19,204.8v2 M115.78,204.8v2 M142.37,204.8v2 M168.96,204.8v2 M222.14,204.8v2 M248.73,204.8v2 M275.32,204.8v2 M301.91,204.8v2 M62.6,204.8h-4 M62.6,105.6h-4 M62.6,6.4h-4 M62.6,184.96h-2 M62.6,165.12h-2 M62.6,145.28h-2 M62.6,125.44h-2 M62.6,85.76h-2 M62.6,65.92h-2 M62.6,46.08h-2 M62.6,26.24h-2" stroke="#2c2c2c" stroke-width="1.0" fill="none"/>
<g transform="translate(58.21,223.5) scale(1,1.04)"><text x="0" y="0" font-size="15.8">0</text></g>
<g transform="translate(186.76,223.5) scale(1,1.04)"><text x="0" y="0" font-size="15.8">50</text></g>
<g transform="translate(315.32,223.5) scale(1,1.04)"><path d="M763,0H583V1147Q518,1085 412,1023Q306,961 223,930V1104Q375,1175 489,1276Q603,1377 649,1466H763Z" transform="translate(0.00,0) scale(0.00771,-0.00771)" fill="#000" stroke="#000" stroke-width="36.3"/><text x="8.79" y="0" font-size="15.8">00</text></g>
<g transform="translate(34.04,210.2) scale(1,1.04)"><text x="0" y="0" font-size="15.8">0.0</text></g>
<g transform="translate(34.04,111) scale(1,1.04)"><text x="0" y="0" font-size="15.8">0.5</text></g>
<g transform="translate(34.04,11.8) scale(1,1.04)"><path d="M763,0H583V1147Q518,1085 412,1023Q306,961 223,930V1104Q375,1175 489,1276Q603,1377 649,1466H763Z" transform="translate(0.00,0) scale(0.00771,-0.00771)" fill="#000" stroke="#000" stroke-width="36.3"/><text x="8.79" y="0" font-size="15.8">.0</text></g>
<rect x="407.0" y="6.6" width="265.80" height="198.10" fill="none" stroke="#2c2c2c" stroke-width="1.0"/>
<path d="M407,204.7v4 M539.9,204.7v4 M672.8,204.7v4 M433.58,204.7v2 M460.16,204.7v2 M486.74,204.7v2 M513.32,204.7v2 M566.48,204.7v2 M593.06,204.7v2 M619.64,204.7v2 M646.22,204.7v2 M407,204.7h-4 M407,105.65h-4 M407,6.6h-4 M407,184.89h-2 M407,165.08h-2 M407,145.27h-2 M407,125.46h-2 M407,85.84h-2 M407,66.03h-2 M407,46.22h-2 M407,26.41h-2" stroke="#2c2c2c" stroke-width="1.0" fill="none"/>
<g transform="translate(402.61,223.4) scale(1,1.04)"><text x="0" y="0" font-size="15.8">0</text></g>
<g transform="translate(531.11,223.4) scale(1,1.04)"><text x="0" y="0" font-size="15.8">50</text></g>
<g transform="translate(659.62,223.4) scale(1,1.04)"><path d="M763,0H583V1147Q518,1085 412,1023Q306,961 223,930V1104Q375,1175 489,1276Q603,1377 649,1466H763Z" transform="translate(0.00,0) scale(0.00771,-0.00771)" fill="#000" stroke="#000" stroke-width="36.3"/><text x="8.79" y="0" font-size="15.8">00</text></g>
<g transform="translate(378.44,210.1) scale(1,1.04)"><text x="0" y="0" font-size="15.8">0.0</text></g>
<g transform="translate(378.44,111.05) scale(1,1.04)"><text x="0" y="0" font-size="15.8">0.5</text></g>
<g transform="translate(378.44,12) scale(1,1.04)"><path d="M763,0H583V1147Q518,1085 412,1023Q306,961 223,930V1104Q375,1175 489,1276Q603,1377 649,1466H763Z" transform="translate(0.00,0) scale(0.00771,-0.00771)" fill="#000" stroke="#000" stroke-width="36.3"/><text x="8.79" y="0" font-size="15.8">.0</text></g>
<rect x="62.6" y="250.8" width="265.90" height="198.30" fill="none" stroke="#2c2c2c" stroke-width="1.0"/>
<path d="M62.6,449.1v4 M151.23,449.1v4 M239.87,449.1v4 M328.5,449.1v4 M92.14,449.1v2 M121.69,449.1v2 M180.78,449.1v2 M210.32,449.1v2 M269.41,449.1v2 M298.96,449.1v2 M62.6,449.1h-4 M62.6,409.44h-4 M62.6,369.78h-4 M62.6,330.12h-4 M62.6,290.46h-4 M62.6,250.8h-4 M62.6,429.27h-2 M62.6,389.61h-2 M62.6,349.95h-2 M62.6,310.29h-2 M62.6,270.63h-2" stroke="#2c2c2c" stroke-width="1.0" fill="none"/>
<g transform="translate(42.83,467.6) scale(1,1.04)"><text x="0" y="0" font-size="15.8">0.00</text><path d="M763,0H583V1147Q518,1085 412,1023Q306,961 223,930V1104Q375,1175 489,1276Q603,1377 649,1466H763Z" transform="translate(30.75,0) scale(0.00771,-0.00771)" fill="#000" stroke="#000" stroke-width="36.3"/></g>
<g transform="translate(131.46,467.6) scale(1,1.04)"><text x="0" y="0" font-size="15.8">0.004</text></g>
<g transform="translate(220.1,467.6) scale(1,1.04)"><text x="0" y="0" font-size="15.8">0.007</text></g>
<g transform="translate(308.73,467.6) scale(1,1.04)"><text x="0" y="0" font-size="15.8">0.0</text><path d="M763,0H583V1147Q518,1085 412,1023Q306,961 223,930V1104Q375,1175 489,1276Q603,1377 649,1466H763Z" transform="translate(21.96,0) scale(0.00771,-0.00771)" fill="#000" stroke="#000" stroke-width="36.3"/><text x="30.75" y="0" font-size="15.8">0</text></g>
<g transform="translate(47.21,454.5) scale(1,1.04)"><text x="0" y="0" font-size="15.8">6</text></g>
<g transform="translate(47.21,414.84) scale(1,1.04)"><text x="0" y="0" font-size="15.8">8</text></g>
<g transform="translate(38.43,375.18) scale(1,1.04)"><path d="M763,0H583V1147Q518,1085 412,1023Q306,961 223,930V1104Q375,1175 489,1276Q603,1377 649,1466H763Z" transform="translate(0.00,0) scale(0.00771,-0.00771)" fill="#000" stroke="#000" stroke-width="36.3"/><text x="8.79" y="0" font-size="15.8">0</text></g>
<g transform="translate(38.43,335.52) scale(1,1.04)"><path d="M763,0H583V1147Q518,1085 412,1023Q306,961 223,930V1104Q375,1175 489,1276Q603,1377 649,1466H763Z" transform="translate(0.00,0) scale(0.00771,-0.00771)" fill="#000" stroke="#000" stroke-width="36.3"/><text x="8.79" y="0" font-size="15.8">2</text></g>
<g transform="translate(38.43,295.86) scale(1,1.04)"><path d="M763,0H583V1147Q518,1085 412,1023Q306,961 223,930V1104Q375,1175 489,1276Q603,1377 649,1466H763Z" transform="translate(0.00,0) scale(0.00771,-0.00771)" fill="#000" stroke="#000" stroke-width="36.3"/><text x="8.79" y="0" font-size="15.8">4</text></g>
<g transform="translate(38.43,256.2) scale(1,1.04)"><path d="M763,0H583V1147Q518,1085 412,1023Q306,961 223,930V1104Q375,1175 489,1276Q603,1377 649,1466H763Z" transform="translate(0.00,0) scale(0.00771,-0.00771)" fill="#000" stroke="#000" stroke-width="36.3"/><text x="8.79" y="0" font-size="15.8">6</text></g>
<rect x="407.0" y="250.8" width="265.80" height="198.40" fill="none" stroke="#2c2c2c" stroke-width="1.0"/>
<path d="M407,449.2v4 M495.6,449.2v4 M584.2,449.2v4 M672.8,449.2v4 M436.53,449.2v2 M466.07,449.2v2 M525.13,449.2v2 M554.67,449.2v2 M613.73,449.2v2 M643.27,449.2v2 M407,449.2h-4 M407,399.6h-4 M407,350h-4 M407,300.4h-4 M407,250.8h-4 M407,424.4h-2 M407,374.8h-2 M407,325.2h-2 M407,275.6h-2" stroke="#2c2c2c" stroke-width="1.0" fill="none"/>
<g transform="translate(402.61,467.7) scale(1,1.04)"><path d="M763,0H583V1147Q518,1085 412,1023Q306,961 223,930V1104Q375,1175 489,1276Q603,1377 649,1466H763Z" transform="translate(0.00,0) scale(0.00771,-0.00771)" fill="#000" stroke="#000" stroke-width="36.3"/></g>
<g transform="translate(491.21,467.7) scale(1,1.04)"><text x="0" y="0" font-size="15.8">4</text></g>
<g transform="translate(579.81,467.7) scale(1,1.04)"><text x="0" y="0" font-size="15.8">7</text></g>
<g transform="translate(664.01,467.7) scale(1,1.04)"><path d="M763,0H583V1147Q518,1085 412,1023Q306,961 223,930V1104Q375,1175 489,1276Q603,1377 649,1466H763Z" transform="translate(0.00,0) scale(0.00771,-0.00771)" fill="#000" stroke="#000" stroke-width="36.3"/><text x="8.79" y="0" font-size="15.8">0</text></g>
<g transform="translate(391.61,454.6) scale(1,1.04)"><text x="0" y="0" font-size="15.8">4</text></g>
<g transform="translate(391.61,405) scale(1,1.04)"><text x="0" y="0" font-size="15.8">8</text></g>
<g transform="translate(382.83,355.4) scale(1,1.04)"><path d="M763,0H583V1147Q518,1085 412,1023Q306,961 223,930V1104Q375,1175 489,1276Q603,1377 649,1466H763Z" transform="translate(0.00,0) scale(0.00771,-0.00771)" fill="#000" stroke="#000" stroke-width="36.3"/><text x="8.79" y="0" font-size="15.8">2</text></g>
<g transform="translate(382.83,305.8) scale(1,1.04)"><path d="M763,0H583V1147Q518,1085 412,1023Q306,961 223,930V1104Q375,1175 489,1276Q603,1377 649,1466H763Z" transform="translate(0.00,0) scale(0.00771,-0.00771)" fill="#000" stroke="#000" stroke-width="36.3"/><text x="8.79" y="0" font-size="15.8">6</text></g>
<g transform="translate(382.83,256.2) scale(1,1.04)"><text x="0" y="0" font-size="15.8">20</text></g>
<g transform="translate(69.2,29.8) scale(1,1.0)"><text x="0" y="0" font-size="20.2">(a)</text></g>
<g transform="translate(413.5,29.9) scale(1,1.0)"><text x="0" y="0" font-size="20.2">(b)</text></g>
<g transform="translate(68.5,273.9) scale(1,1.0)"><text x="0" y="0" font-size="20.2">(c)</text></g>
<g transform="translate(413.5,273.9) scale(1,1.0)"><text x="0" y="0" font-size="20.2">(d)</text></g>
<text x="179.4" y="248" font-size="29" font-family='"Liberation Serif", serif'>Δ</text>
<text x="197" y="248" font-size="34">t</text>
<text x="526.7" y="248" font-size="29" font-family='"Liberation Serif", serif'>Δ</text>
<text x="544.3" y="248" font-size="34">t</text>
<text x="180.2" y="483.6" font-size="29" font-family='"Liberation Serif", serif'>Δβ</text>
<g transform="translate(534.23,481.3) scale(1,1.04)"><text x="0" y="0" font-size="32">T</text></g>
<text transform="translate(13.8,80.6) rotate(-90)" font-size="26">ρ</text>
<text transform="translate(25.7,67.4) rotate(-90)" font-size="19">I</text>
<text transform="translate(364.6,80.6) rotate(-90)" font-size="26">ρ</text>
<text transform="translate(376.5,67.4) rotate(-90)" font-size="19">I</text>
<text transform="translate(24.6,346.2) rotate(-90)" font-size="33.5">S</text>
<text transform="translate(36.9,324.3) rotate(-90)" font-size="15.5" font-family='"Liberation Serif", serif'>Δ</text>
<text transform="translate(36.9,315.2) rotate(-90)" font-size="19">t</text>
<text transform="translate(363,352.1) rotate(-90)" font-size="33.5">S</text>
<text transform="translate(374.7,329.7) rotate(-90)" font-size="15.5" font-family='"Liberation Serif", serif'>Δ</text>
<text transform="translate(374.7,320.1) rotate(-90)" font-size="19">t</text>
<rect x="65.3" y="161.4" width="95.1" height="32.6" fill="#fff" stroke="#b8b8b8" stroke-width="1"/>
<path d="M66.6,169.6H99.6" stroke="#e80000" stroke-width="2.2"/>
<rect x="79" y="165.2" width="8.6" height="8.6" fill="#f00"/>
<path d="M66.8,186.4H99.4" stroke="#000" stroke-width="1.4"/>
<circle cx="83" cy="186.4" r="4.8" fill="#000"/>
<g transform="translate(102.6,174.2) scale(1,1.0)"><text x="0" y="0" font-size="12.4" font-family='"Liberation Serif", serif'>Δβ</text></g>
<g transform="translate(118.08,174.2) scale(1,1.02)"><text x="0" y="0" font-size="13.2">=0.0</text><path d="M763,0H583V1147Q518,1085 412,1023Q306,961 223,930V1104Q375,1175 489,1276Q603,1377 649,1466H763Z" transform="translate(26.06,0) scale(0.00645,-0.00645)" fill="#000" stroke="#000" stroke-width="43.4"/></g>
<g transform="translate(102.6,190.8) scale(1,1.0)"><text x="0" y="0" font-size="12.4" font-family='"Liberation Serif", serif'>Δβ</text></g>
<g transform="translate(118.08,190.8) scale(1,1.02)"><text x="0" y="0" font-size="13.2">=0.00</text><path d="M763,0H583V1147Q518,1085 412,1023Q306,961 223,930V1104Q375,1175 489,1276Q603,1377 649,1466H763Z" transform="translate(33.40,0) scale(0.00645,-0.00645)" fill="#000" stroke="#000" stroke-width="43.4"/></g>
<rect x="412" y="164.1" width="61.9" height="33.6" fill="#fff" stroke="#b8b8b8" stroke-width="1"/>
<path d="M412.8,172.7H445" stroke="#f00" stroke-width="1.7"/>
<rect x="425" y="168.4" width="8.8" height="8.8" fill="#f00"/>
<path d="M412.8,189.9H445" stroke="#000" stroke-width="2.4"/>
<circle cx="429.3" cy="189.8" r="4.7" fill="#000"/>
<g transform="translate(448.9,177.9) scale(1,1.0)"><text x="0" y="0" font-size="13.6">T=</text><path d="M763,0H583V1147Q518,1085 412,1023Q306,961 223,930V1104Q375,1175 489,1276Q603,1377 649,1466H763Z" transform="translate(16.25,0) scale(0.00664,-0.00664)" fill="#000" stroke="#000" stroke-width="42.2"/></g>
<g transform="translate(448.9,194.8) scale(1,1.0)"><text x="0" y="0" font-size="13.6">T=5</text></g>
<rect x="65.4" y="387.9" width="67.5" height="57.8" fill="#fff" stroke="#b8b8b8" stroke-width="1"/>
<rect x="81.5" y="396.2" width="8.6" height="8.6" fill="none" stroke="#4848d0" stroke-width="1.0"/>
<circle cx="86" cy="417.4" r="4.8" fill="none" stroke="#dc4048" stroke-width="1.0"/>
<path d="M85.8,428.1 L90.8,437.7 L80.8,437.7 Z" fill="none" stroke="#1a1a1a" stroke-width="1.10" stroke-linejoin="miter"/>
<g transform="translate(106,405.9) scale(1,1.02)"><text x="0" y="0" font-size="13.6">T=</text><path d="M763,0H583V1147Q518,1085 412,1023Q306,961 223,930V1104Q375,1175 489,1276Q603,1377 649,1466H763Z" transform="translate(16.25,0) scale(0.00664,-0.00664)" fill="#000" stroke="#000" stroke-width="42.2"/></g>
<g transform="translate(106,422.7) scale(1,1.02)"><text x="0" y="0" font-size="13.6">T=2</text></g>
<g transform="translate(106,439.4) scale(1,1.02)"><text x="0" y="0" font-size="13.6">T=3</text></g>
<rect x="570.9" y="387.4" width="101.2" height="57.4" fill="#fff" stroke="#b8b8b8" stroke-width="1"/>
<rect x="586.7" y="395.5" width="8.6" height="8.6" fill="none" stroke="#4848d0" stroke-width="1.0"/>
<circle cx="591.2" cy="416.8" r="4.8" fill="none" stroke="#dc4048" stroke-width="1.0"/>
<path d="M591,428 L596,437.6 L586,437.6 Z" fill="none" stroke="#1a1a1a" stroke-width="1.10" stroke-linejoin="miter"/>
<g transform="translate(610.4,404.5) scale(1,1.02)"><text x="0" y="0" font-size="12.6" font-family='"Liberation Serif", serif' fill="#222" stroke="none">Δβ</text><text x="14.51" y="0" font-size="13.2" fill="#555" stroke="#555">=</text><text x="22.22" y="0" font-size="13.3">0.02</text></g>
<g transform="translate(610.4,421.4) scale(1,1.02)"><text x="0" y="0" font-size="12.6" font-family='"Liberation Serif", serif' fill="#222" stroke="none">Δβ</text><text x="14.51" y="0" font-size="13.2" fill="#555" stroke="#555">=</text><text x="22.22" y="0" font-size="13.3">0.0</text><path d="M763,0H583V1147Q518,1085 412,1023Q306,961 223,930V1104Q375,1175 489,1276Q603,1377 649,1466H763Z" transform="translate(40.71,0) scale(0.00649,-0.00649)" fill="#000" stroke="#000" stroke-width="43.1"/></g>
<g transform="translate(610.4,438.6) scale(1,1.02)"><text x="0" y="0" font-size="12.6" font-family='"Liberation Serif", serif' fill="#222" stroke="none">Δβ</text><text x="14.51" y="0" font-size="13.2" fill="#555" stroke="#555">=</text><text x="22.22" y="0" font-size="13.3">0.005</text></g>
<rect x="200.2" y="257.8" width="117.80" height="72.80" fill="#fff" stroke="#b0b0b0" stroke-width="1.5"/>
<g clip-path="url(#cci)"><rect x="197.45" y="279.95" width="5.5" height="5.5" fill="none" stroke="#4848d0" stroke-width="0.85"/><rect x="232.91" y="287.38" width="5.5" height="5.5" fill="none" stroke="#4848d0" stroke-width="0.85"/><rect x="253.65" y="292.27" width="5.5" height="5.5" fill="none" stroke="#4848d0" stroke-width="0.85"/><rect x="268.37" y="297.75" width="5.5" height="5.5" fill="none" stroke="#4848d0" stroke-width="0.85"/><rect x="279.79" y="302.17" width="5.5" height="5.5" fill="none" stroke="#4848d0" stroke-width="0.85"/><rect x="289.11" y="305.76" width="5.5" height="5.5" fill="none" stroke="#4848d0" stroke-width="0.85"/><rect x="297" y="309.24" width="5.5" height="5.5" fill="none" stroke="#4848d0" stroke-width="0.85"/><rect x="303.83" y="311.88" width="5.5" height="5.5" fill="none" stroke="#4848d0" stroke-width="0.85"/><rect x="309.86" y="314.73" width="5.5" height="5.5" fill="none" stroke="#4848d0" stroke-width="0.85"/><rect x="315.25" y="317.69" width="5.5" height="5.5" fill="none" stroke="#4848d0" stroke-width="0.85"/><circle cx="200.2" cy="278.41" r="3.07" fill="none" stroke="#dc4048" stroke-width="0.85"/><circle cx="235.66" cy="283.94" r="3.07" fill="none" stroke="#dc4048" stroke-width="0.85"/><circle cx="256.4" cy="286.84" r="3.07" fill="none" stroke="#dc4048" stroke-width="0.85"/><circle cx="271.12" cy="290.13" r="3.07" fill="none" stroke="#dc4048" stroke-width="0.85"/><circle cx="282.54" cy="293.28" r="3.07" fill="none" stroke="#dc4048" stroke-width="0.85"/><circle cx="291.87" cy="296.02" r="3.07" fill="none" stroke="#dc4048" stroke-width="0.85"/><circle cx="299.75" cy="297.75" r="3.07" fill="none" stroke="#dc4048" stroke-width="0.85"/><circle cx="306.58" cy="301.17" r="3.07" fill="none" stroke="#dc4048" stroke-width="0.85"/><circle cx="312.61" cy="303.79" r="3.07" fill="none" stroke="#dc4048" stroke-width="0.85"/><circle cx="318" cy="304.31" r="3.07" fill="none" stroke="#dc4048" stroke-width="0.85"/><path d="M200.2,273.11 L203.4,279.25 L197,279.25 Z" fill="none" stroke="#1a1a1a" stroke-width="0.94" stroke-linejoin="miter"/><path d="M235.66,276.33 L238.86,282.47 L232.46,282.47 Z" fill="none" stroke="#1a1a1a" stroke-width="0.94" stroke-linejoin="miter"/><path d="M256.4,280.61 L259.6,286.75 L253.2,286.75 Z" fill="none" stroke="#1a1a1a" stroke-width="0.94" stroke-linejoin="miter"/><path d="M271.12,283.15 L274.32,289.29 L267.92,289.29 Z" fill="none" stroke="#1a1a1a" stroke-width="0.94" stroke-linejoin="miter"/><path d="M282.54,285.01 L285.74,291.15 L279.34,291.15 Z" fill="none" stroke="#1a1a1a" stroke-width="0.94" stroke-linejoin="miter"/><path d="M291.87,286.49 L295.07,292.63 L288.67,292.63 Z" fill="none" stroke="#1a1a1a" stroke-width="0.94" stroke-linejoin="miter"/><path d="M299.75,289.39 L302.95,295.53 L296.55,295.53 Z" fill="none" stroke="#1a1a1a" stroke-width="0.94" stroke-linejoin="miter"/><path d="M306.58,290.28 L309.78,296.43 L303.38,296.43 Z" fill="none" stroke="#1a1a1a" stroke-width="0.94" stroke-linejoin="miter"/><path d="M312.61,292.49 L315.81,298.63 L309.41,298.63 Z" fill="none" stroke="#1a1a1a" stroke-width="0.94" stroke-linejoin="miter"/><path d="M318,294.28 L321.2,300.43 L314.8,300.43 Z" fill="none" stroke="#1a1a1a" stroke-width="0.94" stroke-linejoin="miter"/><path d="M200.2,283.05 L202.2,283.32 L204.19,283.6 L206.19,283.89 L208.19,284.19 L210.18,284.49 L212.18,284.81 L214.18,285.14 L216.17,285.48 L218.17,285.84 L220.17,286.2 L222.16,286.58 L224.16,286.97 L226.16,287.37 L228.15,287.79 L230.15,288.22 L232.15,288.66 L234.14,289.12 L236.14,289.59 L238.14,290.07 L240.13,290.57 L242.13,291.09 L244.13,291.62 L246.12,292.17 L248.12,292.73 L250.12,293.3 L252.11,293.9 L254.11,294.51 L256.11,295.13 L258.1,295.77 L260.1,296.43 L262.09,297.1 L264.09,297.79 L266.09,298.49 L268.08,299.21 L270.08,299.94 L272.08,300.69 L274.07,301.46 L276.07,302.23 L278.07,303.02 L280.06,303.82 L282.06,304.64 L284.06,305.46 L286.05,306.29 L288.05,307.13 L290.05,307.98 L292.04,308.84 L294.04,309.7 L296.04,310.56 L298.03,311.42 L300.03,312.29 L302.03,313.15 L304.02,314.01 L306.02,314.86 L308.02,315.71 L310.01,316.55 L312.01,317.37 L314.01,318.18 L316,318.98 L318,319.76" fill="none" stroke="#0000f0" stroke-width="2.3" stroke-linejoin="round"/><path d="M200.2,278.93 L202.2,279.1 L204.19,279.28 L206.19,279.46 L208.19,279.65 L210.18,279.85 L212.18,280.05 L214.18,280.26 L216.17,280.48 L218.17,280.71 L220.17,280.94 L222.16,281.18 L224.16,281.44 L226.16,281.69 L228.15,281.96 L230.15,282.24 L232.15,282.53 L234.14,282.82 L236.14,283.13 L238.14,283.44 L240.13,283.77 L242.13,284.1 L244.13,284.45 L246.12,284.81 L248.12,285.17 L250.12,285.55 L252.11,285.94 L254.11,286.34 L256.11,286.76 L258.1,287.18 L260.1,287.62 L262.09,288.07 L264.09,288.53 L266.09,289 L268.08,289.48 L270.08,289.98 L272.08,290.49 L274.07,291.01 L276.07,291.54 L278.07,292.09 L280.06,292.64 L282.06,293.21 L284.06,293.79 L286.05,294.37 L288.05,294.97 L290.05,295.58 L292.04,296.2 L294.04,296.82 L296.04,297.45 L298.03,298.09 L300.03,298.74 L302.03,299.39 L304.02,300.05 L306.02,300.71 L308.02,301.37 L310.01,302.03 L312.01,302.69 L314.01,303.36 L316,304.01 L318,304.67" fill="none" stroke="#f00" stroke-width="2.3" stroke-linejoin="round"/><path d="M200.2,276.72 L202.2,276.87 L204.19,277.02 L206.19,277.18 L208.19,277.34 L210.18,277.51 L212.18,277.68 L214.18,277.86 L216.17,278.05 L218.17,278.24 L220.17,278.44 L222.16,278.64 L224.16,278.86 L226.16,279.08 L228.15,279.3 L230.15,279.54 L232.15,279.78 L234.14,280.02 L236.14,280.28 L238.14,280.54 L240.13,280.82 L242.13,281.1 L244.13,281.39 L246.12,281.68 L248.12,281.99 L250.12,282.3 L252.11,282.62 L254.11,282.96 L256.11,283.3 L258.1,283.65 L260.1,284 L262.09,284.37 L264.09,284.75 L266.09,285.13 L268.08,285.52 L270.08,285.92 L272.08,286.33 L274.07,286.75 L276.07,287.18 L278.07,287.61 L280.06,288.06 L282.06,288.5 L284.06,288.96 L286.05,289.42 L288.05,289.89 L290.05,290.36 L292.04,290.84 L294.04,291.33 L296.04,291.81 L298.03,292.3 L300.03,292.8 L302.03,293.29 L304.02,293.78 L306.02,294.28 L308.02,294.77 L310.01,295.26 L312.01,295.75 L314.01,296.23 L316,296.71 L318,297.19" fill="none" stroke="#000" stroke-width="2.3" stroke-linejoin="round"/></g>
<rect x="543.4" y="257.4" width="118.20" height="73.50" fill="#fff" stroke="#b0b0b0" stroke-width="1.5"/>
<g clip-path="url(#cdi)"><rect x="540.65" y="314.7" width="5.5" height="5.5" fill="none" stroke="#4848d0" stroke-width="0.85"/><rect x="576.23" y="302.92" width="5.5" height="5.5" fill="none" stroke="#4848d0" stroke-width="0.85"/><rect x="597.04" y="297.13" width="5.5" height="5.5" fill="none" stroke="#4848d0" stroke-width="0.85"/><rect x="611.81" y="293.94" width="5.5" height="5.5" fill="none" stroke="#4848d0" stroke-width="0.85"/><rect x="623.27" y="290.76" width="5.5" height="5.5" fill="none" stroke="#4848d0" stroke-width="0.85"/><rect x="632.63" y="289.18" width="5.5" height="5.5" fill="none" stroke="#4848d0" stroke-width="0.85"/><rect x="640.54" y="287.69" width="5.5" height="5.5" fill="none" stroke="#4848d0" stroke-width="0.85"/><rect x="647.39" y="286.85" width="5.5" height="5.5" fill="none" stroke="#4848d0" stroke-width="0.85"/><rect x="653.44" y="286.12" width="5.5" height="5.5" fill="none" stroke="#4848d0" stroke-width="0.85"/><rect x="658.85" y="285.49" width="5.5" height="5.5" fill="none" stroke="#4848d0" stroke-width="0.85"/><circle cx="543.4" cy="306.33" r="3.07" fill="none" stroke="#dc4048" stroke-width="0.85"/><circle cx="578.98" cy="297.07" r="3.07" fill="none" stroke="#dc4048" stroke-width="0.85"/><circle cx="599.8" cy="292.03" r="3.07" fill="none" stroke="#dc4048" stroke-width="0.85"/><circle cx="614.56" cy="289.7" r="3.07" fill="none" stroke="#dc4048" stroke-width="0.85"/><circle cx="626.02" cy="287.22" r="3.07" fill="none" stroke="#dc4048" stroke-width="0.85"/><circle cx="635.38" cy="286.14" r="3.07" fill="none" stroke="#dc4048" stroke-width="0.85"/><circle cx="643.29" cy="285.16" r="3.07" fill="none" stroke="#dc4048" stroke-width="0.85"/><circle cx="650.15" cy="284.66" r="3.07" fill="none" stroke="#dc4048" stroke-width="0.85"/><circle cx="656.19" cy="284.45" r="3.07" fill="none" stroke="#dc4048" stroke-width="0.85"/><circle cx="661.6" cy="283.35" r="3.07" fill="none" stroke="#dc4048" stroke-width="0.85"/><path d="M543.4,292.98 L546.6,299.12 L540.2,299.12 Z" fill="none" stroke="#1a1a1a" stroke-width="0.94" stroke-linejoin="miter"/><path d="M578.98,285.48 L582.18,291.63 L575.78,291.63 Z" fill="none" stroke="#1a1a1a" stroke-width="0.94" stroke-linejoin="miter"/><path d="M599.8,282.26 L603,288.4 L596.6,288.4 Z" fill="none" stroke="#1a1a1a" stroke-width="0.94" stroke-linejoin="miter"/><path d="M614.56,281.55 L617.76,287.69 L611.36,287.69 Z" fill="none" stroke="#1a1a1a" stroke-width="0.94" stroke-linejoin="miter"/><path d="M626.02,280.69 L629.22,286.83 L622.82,286.83 Z" fill="none" stroke="#1a1a1a" stroke-width="0.94" stroke-linejoin="miter"/><path d="M635.38,279.56 L638.58,285.7 L632.18,285.7 Z" fill="none" stroke="#1a1a1a" stroke-width="0.94" stroke-linejoin="miter"/><path d="M643.29,279.44 L646.49,285.59 L640.09,285.59 Z" fill="none" stroke="#1a1a1a" stroke-width="0.94" stroke-linejoin="miter"/><path d="M650.15,278.19 L653.35,284.34 L646.95,284.34 Z" fill="none" stroke="#1a1a1a" stroke-width="0.94" stroke-linejoin="miter"/><path d="M656.19,277.89 L659.39,284.03 L652.99,284.03 Z" fill="none" stroke="#1a1a1a" stroke-width="0.94" stroke-linejoin="miter"/><path d="M661.6,277.54 L664.8,283.69 L658.4,283.69 Z" fill="none" stroke="#1a1a1a" stroke-width="0.94" stroke-linejoin="miter"/><path d="M543.4,316.89 L545.4,316.34 L547.41,315.79 L549.41,315.24 L551.41,314.67 L553.42,314.1 L555.42,313.53 L557.42,312.94 L559.43,312.36 L561.43,311.76 L563.43,311.17 L565.44,310.56 L567.44,309.96 L569.44,309.35 L571.45,308.74 L573.45,308.13 L575.45,307.52 L577.46,306.9 L579.46,306.29 L581.46,305.67 L583.47,305.06 L585.47,304.45 L587.47,303.84 L589.48,303.23 L591.48,302.63 L593.48,302.03 L595.49,301.44 L597.49,300.85 L599.49,300.27 L601.5,299.7 L603.5,299.13 L605.51,298.58 L607.51,298.03 L609.51,297.49 L611.52,296.96 L613.52,296.44 L615.52,295.94 L617.53,295.45 L619.53,294.97 L621.53,294.5 L623.54,294.05 L625.54,293.61 L627.54,293.19 L629.55,292.78 L631.55,292.39 L633.55,292.02 L635.56,291.66 L637.56,291.31 L639.56,290.99 L641.57,290.68 L643.57,290.39 L645.57,290.11 L647.58,289.85 L649.58,289.61 L651.58,289.38 L653.59,289.17 L655.59,288.97 L657.59,288.79 L659.6,288.63 L661.6,288.48" fill="none" stroke="#0000f0" stroke-width="2.3" stroke-linejoin="round"/><path d="M543.4,306.04 L545.4,305.59 L547.41,305.14 L549.41,304.67 L551.41,304.21 L553.42,303.73 L555.42,303.26 L557.42,302.77 L559.43,302.29 L561.43,301.8 L563.43,301.3 L565.44,300.81 L567.44,300.31 L569.44,299.81 L571.45,299.31 L573.45,298.81 L575.45,298.3 L577.46,297.8 L579.46,297.3 L581.46,296.8 L583.47,296.3 L585.47,295.8 L587.47,295.31 L589.48,294.82 L591.48,294.34 L593.48,293.86 L595.49,293.38 L597.49,292.92 L599.49,292.46 L601.5,292 L603.5,291.56 L605.51,291.12 L607.51,290.69 L609.51,290.28 L611.52,289.87 L613.52,289.47 L615.52,289.09 L617.53,288.72 L619.53,288.36 L621.53,288.01 L623.54,287.67 L625.54,287.35 L627.54,287.04 L629.55,286.75 L631.55,286.47 L633.55,286.2 L635.56,285.95 L637.56,285.72 L639.56,285.49 L641.57,285.28 L643.57,285.09 L645.57,284.91 L647.58,284.74 L649.58,284.58 L651.58,284.44 L653.59,284.31 L655.59,284.19 L657.59,284.08 L659.6,283.99 L661.6,283.9" fill="none" stroke="#f00" stroke-width="2.3" stroke-linejoin="round"/><path d="M543.4,295.15 L545.4,294.87 L547.41,294.6 L549.41,294.31 L551.41,294.03 L553.42,293.74 L555.42,293.44 L557.42,293.15 L559.43,292.85 L561.43,292.55 L563.43,292.24 L565.44,291.93 L567.44,291.62 L569.44,291.31 L571.45,290.99 L573.45,290.68 L575.45,290.36 L577.46,290.05 L579.46,289.73 L581.46,289.42 L583.47,289.1 L585.47,288.79 L587.47,288.48 L589.48,288.16 L591.48,287.86 L593.48,287.55 L595.49,287.25 L597.49,286.95 L599.49,286.66 L601.5,286.37 L603.5,286.09 L605.51,285.81 L607.51,285.54 L609.51,285.28 L611.52,285.02 L613.52,284.77 L615.52,284.52 L617.53,284.29 L619.53,284.06 L621.53,283.84 L623.54,283.63 L625.54,283.43 L627.54,283.24 L629.55,283.06 L631.55,282.89 L633.55,282.73 L635.56,282.57 L637.56,282.43 L639.56,282.29 L641.57,282.17 L643.57,282.05 L645.57,281.94 L647.58,281.84 L649.58,281.75 L651.58,281.67 L653.59,281.59 L655.59,281.53 L657.59,281.47 L659.6,281.41 L661.6,281.36" fill="none" stroke="#000" stroke-width="2.3" stroke-linejoin="round"/></g>
<g transform="translate(186.9,261.3) scale(1,1.04)"><path d="M763,0H583V1147Q518,1085 412,1023Q306,961 223,930V1104Q375,1175 489,1276Q603,1377 649,1466H763Z" transform="translate(0.00,0) scale(0.00479,-0.00479)" fill="#000" stroke="#000" stroke-width="58.5"/><text x="5.45" y="0" font-size="9.8" fill="#111">6</text></g>
<g transform="translate(186.9,289.11) scale(1,1.04)"><path d="M763,0H583V1147Q518,1085 412,1023Q306,961 223,930V1104Q375,1175 489,1276Q603,1377 649,1466H763Z" transform="translate(0.00,0) scale(0.00479,-0.00479)" fill="#000" stroke="#000" stroke-width="58.5"/><path d="M763,0H583V1147Q518,1085 412,1023Q306,961 223,930V1104Q375,1175 489,1276Q603,1377 649,1466H763Z" transform="translate(5.45,0) scale(0.00479,-0.00479)" fill="#000" stroke="#000" stroke-width="58.5"/></g>
<g transform="translate(192.35,334.1) scale(1,1.04)"><text x="0" y="0" font-size="9.8" fill="#111">6</text></g>
<g transform="translate(187.94,340.6) scale(1,1.04)"><text x="0" y="0" font-size="9.8" fill="#111">0.00</text><path d="M763,0H583V1147Q518,1085 412,1023Q306,961 223,930V1104Q375,1175 489,1276Q603,1377 649,1466H763Z" transform="translate(19.07,0) scale(0.00479,-0.00479)" fill="#000" stroke="#000" stroke-width="58.5"/></g>
<g transform="translate(279.6,340.6) scale(1,1.04)"><text x="0" y="0" font-size="9.8" fill="#111">0.006</text></g>
<text x="248.3" y="355.2" font-size="15.5" font-family='"Liberation Serif", serif'>Δβ</text>
<text transform="translate(173.1,305.1) rotate(-90)" font-size="16.5">S</text>
<text transform="translate(179.4,294.6) rotate(-90)" font-size="10" font-family='"Liberation Serif", serif'>Δ</text>
<text transform="translate(179.4,289.2) rotate(-90)" font-size="10.5">t</text>
<g transform="translate(530.1,260.9) scale(1,1.04)"><text x="0" y="0" font-size="9.8" fill="#111">20</text></g>
<g transform="translate(530.1,284.23) scale(1,1.04)"><path d="M763,0H583V1147Q518,1085 412,1023Q306,961 223,930V1104Q375,1175 489,1276Q603,1377 649,1466H763Z" transform="translate(0.00,0) scale(0.00479,-0.00479)" fill="#000" stroke="#000" stroke-width="58.5"/><text x="5.45" y="0" font-size="9.8" fill="#111">2</text></g>
<g transform="translate(535.55,334.4) scale(1,1.04)"><text x="0" y="0" font-size="9.8" fill="#111">4</text></g>
<g transform="translate(540.67,340.6) scale(1,1.04)"><path d="M763,0H583V1147Q518,1085 412,1023Q306,961 223,930V1104Q375,1175 489,1276Q603,1377 649,1466H763Z" transform="translate(0.00,0) scale(0.00479,-0.00479)" fill="#000" stroke="#000" stroke-width="58.5"/></g>
<g transform="translate(611.84,340.6) scale(1,1.04)"><text x="0" y="0" font-size="9.8" fill="#111">4</text></g>
<g transform="translate(640.57,340.6) scale(1,1.04)"><text x="0" y="0" font-size="9.8" fill="#111">7</text></g>
<g transform="translate(656.15,340.6) scale(1,1.04)"><path d="M763,0H583V1147Q518,1085 412,1023Q306,961 223,930V1104Q375,1175 489,1276Q603,1377 649,1466H763Z" transform="translate(0.00,0) scale(0.00479,-0.00479)" fill="#000" stroke="#000" stroke-width="58.5"/><text x="5.45" y="0" font-size="9.8" fill="#111">0</text></g>
<g transform="translate(592.96,348.5) scale(1,1.04)"><text x="0" y="0" font-size="16.5">T</text></g>
<text transform="translate(518.1,306.6) rotate(-90)" font-size="16.5">S</text>
<text transform="translate(524.1,296.4) rotate(-90)" font-size="10" font-family='"Liberation Serif", serif'>Δ</text>
<text transform="translate(524.1,291) rotate(-90)" font-size="10.5">t</text>
</svg></body></html>
